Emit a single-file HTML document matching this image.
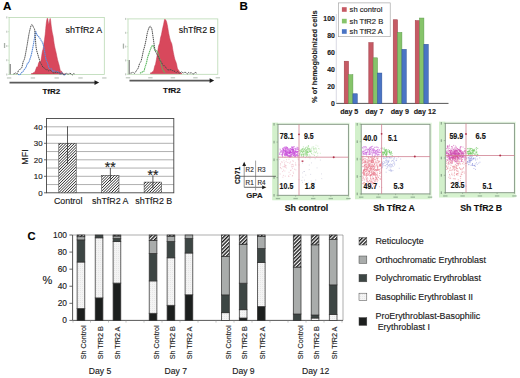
<!DOCTYPE html>
<html><head><meta charset="utf-8"><style>
html,body{margin:0;padding:0;background:#fff;width:520px;height:378px;overflow:hidden}
svg{display:block}
svg text{stroke:#1a1a1a;stroke-width:0.14px}
</style></head><body>
<svg width="520" height="378" viewBox="0 0 520 378">
<rect width="520" height="378" fill="#fff"/>
<text x="3.0" y="10.2" font-size="11.6" font-weight="bold" fill="#000" font-family="Liberation Sans, sans-serif">A</text>
<text x="239.6" y="10.1" font-size="11.6" font-weight="bold" fill="#000" font-family="Liberation Sans, sans-serif">B</text>
<text x="27.4" y="240.1" font-size="11.2" font-weight="bold" fill="#000" font-family="Liberation Sans, sans-serif">C</text>
<rect x="9.1" y="17.4" width="95.2" height="57.1" fill="#fff" stroke="#b9d9b3" stroke-width="0.8"/>
<rect x="6.9" y="77.3" width="4.4" height="1.3" fill="#c4ccc4"/>
<rect x="30.7" y="77.3" width="4.4" height="1.3" fill="#c4ccc4"/>
<rect x="54.5" y="77.3" width="4.4" height="1.3" fill="#c4ccc4"/>
<rect x="78.3" y="77.3" width="4.4" height="1.3" fill="#c4ccc4"/>
<rect x="102.1" y="77.3" width="4.4" height="1.3" fill="#c4ccc4"/>
<line x1="7.8999999999999995" y1="74.5" x2="9.1" y2="74.5" stroke="#b9d9b3" stroke-width="0.6"/>
<rect x="6.3" y="73.5" width="1" height="2" fill="#b8c0b8"/>
<line x1="7.8999999999999995" y1="60.2" x2="9.1" y2="60.2" stroke="#b9d9b3" stroke-width="0.6"/>
<rect x="6.3" y="59.2" width="1" height="2" fill="#b8c0b8"/>
<line x1="7.8999999999999995" y1="46.0" x2="9.1" y2="46.0" stroke="#b9d9b3" stroke-width="0.6"/>
<rect x="6.3" y="45.0" width="1" height="2" fill="#b8c0b8"/>
<line x1="7.8999999999999995" y1="31.7" x2="9.1" y2="31.7" stroke="#b9d9b3" stroke-width="0.6"/>
<rect x="6.3" y="30.7" width="1" height="2" fill="#b8c0b8"/>
<line x1="7.8999999999999995" y1="17.4" x2="9.1" y2="17.4" stroke="#b9d9b3" stroke-width="0.6"/>
<rect x="6.3" y="16.4" width="1" height="2" fill="#b8c0b8"/>
<rect x="3.9" y="43.0" width="1.3" height="5" fill="#a8b0a8"/>
<path d="M31.30,73.62 C31.45,73.65 31.90,73.96 32.20,73.81 C32.50,73.67 32.80,72.94 33.10,72.76 C33.40,72.59 33.68,72.97 34.00,72.77 C34.32,72.57 34.67,72.23 35.00,71.58 C35.33,70.93 35.69,69.68 36.00,68.87 C36.31,68.06 36.56,67.07 36.83,66.73 C37.11,66.40 37.39,67.44 37.67,66.88 C37.94,66.32 38.17,64.30 38.50,63.37 C38.83,62.45 39.27,61.66 39.65,61.31 C40.03,60.96 40.36,62.85 40.80,61.29 C41.24,59.72 41.92,53.99 42.30,51.92 C42.68,49.85 42.83,50.21 43.10,48.87 C43.37,47.54 43.55,46.36 43.90,43.94 C44.25,41.52 44.80,37.84 45.20,34.36 C45.60,30.89 45.92,25.79 46.30,23.09 C46.68,20.39 47.08,18.01 47.50,18.15 C47.92,18.29 48.35,23.91 48.80,23.96 C49.25,24.01 49.77,17.95 50.20,18.46 C50.63,18.97 51.07,24.75 51.40,27.03 C51.73,29.31 51.93,30.67 52.20,32.15 C52.47,33.62 52.62,33.61 53.00,35.87 C53.38,38.12 54.00,42.94 54.50,45.67 C55.00,48.40 55.50,49.93 56.00,52.24 C56.50,54.54 57.00,57.39 57.50,59.48 C58.00,61.57 58.50,62.87 59.00,64.78 C59.50,66.69 60.08,69.88 60.50,70.95 C60.92,72.02 61.17,70.83 61.50,71.18 C61.83,71.53 62.19,72.58 62.50,73.07 C62.81,73.55 63.06,73.89 63.33,74.08 C63.61,74.28 63.89,74.22 64.17,74.26 C64.44,74.29 64.86,74.29 65.00,74.30 L65,73.9 L31.3,73.9 Z" fill="#d8485c" stroke="#c03a50" stroke-width="0.5"/>
<path d="M18.00,74.52 C18.35,74.51 19.49,74.73 20.10,74.44 C20.71,74.14 21.12,73.27 21.63,72.73 C22.14,72.19 22.66,71.81 23.17,71.20 C23.68,70.58 24.23,69.68 24.70,69.03 C25.17,68.39 25.57,68.22 26.00,67.33 C26.43,66.44 26.87,64.50 27.30,63.69 C27.73,62.87 28.13,63.27 28.60,62.44 C29.07,61.61 29.60,60.18 30.10,58.70 C30.60,57.22 30.97,56.40 31.60,53.57 C32.23,50.74 33.25,45.33 33.90,41.72 C34.55,38.11 34.98,33.05 35.50,31.90 C36.02,30.76 36.37,33.92 37.00,34.84 C37.63,35.77 38.53,36.40 39.30,37.44 C40.07,38.48 40.97,39.95 41.60,41.08 C42.23,42.21 42.62,42.56 43.10,44.23 C43.58,45.91 44.02,48.58 44.50,51.12 C44.98,53.67 45.50,57.49 46.00,59.49 C46.50,61.49 47.00,61.73 47.50,63.10 C48.00,64.48 48.53,66.80 49.00,67.75 C49.47,68.70 49.89,68.59 50.33,68.81 C50.78,69.03 51.22,68.60 51.67,69.05 C52.11,69.51 52.54,71.24 53.00,71.53 C53.46,71.83 53.93,70.74 54.40,70.85 C54.87,70.96 55.33,72.05 55.80,72.21 C56.27,72.37 56.73,71.85 57.20,71.83 C57.67,71.81 58.13,71.71 58.60,72.10 C59.07,72.49 59.57,74.00 60.00,74.17 C60.43,74.34 60.80,73.27 61.20,73.12 C61.60,72.97 62.00,72.99 62.40,73.27 C62.80,73.55 63.20,74.54 63.60,74.79 C64.00,75.03 64.40,74.83 64.80,74.73 C65.20,74.63 65.80,74.29 66.00,74.20" fill="none" stroke="#5a8ad8" stroke-width="1.1" stroke-dasharray="1.5,0.5"/>
<path d="M13.50,73.93 C13.70,73.86 14.30,73.69 14.70,73.51 C15.10,73.32 15.50,72.76 15.90,72.82 C16.30,72.88 16.64,74.28 17.10,73.86 C17.56,73.44 18.12,71.07 18.63,70.28 C19.14,69.49 19.66,69.55 20.17,69.14 C20.68,68.73 21.19,69.05 21.70,67.82 C22.21,66.58 22.70,63.38 23.20,61.75 C23.70,60.11 24.07,60.65 24.70,58.00 C25.33,55.34 26.23,50.06 27.00,45.81 C27.77,41.56 28.53,35.99 29.30,32.47 C30.07,28.95 30.88,25.50 31.60,24.68 C32.32,23.86 33.08,26.64 33.60,27.57 C34.12,28.49 34.38,28.16 34.70,30.21 C35.02,32.27 35.25,36.93 35.50,39.91 C35.75,42.88 35.82,45.68 36.20,48.08 C36.58,50.49 37.15,52.04 37.80,54.33 C38.45,56.61 39.48,60.10 40.10,61.80 C40.73,63.50 41.07,63.60 41.55,64.51 C42.03,65.42 42.51,66.67 43.00,67.26 C43.49,67.85 44.00,67.64 44.50,68.06 C45.00,68.48 45.53,69.53 46.00,69.79 C46.47,70.05 46.86,69.45 47.29,69.62 C47.72,69.79 48.15,70.72 48.58,70.81 C49.01,70.90 49.44,70.14 49.88,70.18 C50.31,70.22 50.74,70.71 51.17,71.06 C51.60,71.41 52.03,71.97 52.46,72.28 C52.89,72.59 53.33,72.87 53.75,72.91 C54.17,72.95 54.56,72.66 54.97,72.53 C55.37,72.39 55.78,72.08 56.18,72.09 C56.59,72.10 56.99,72.49 57.40,72.58 C57.81,72.67 58.21,72.58 58.62,72.64 C59.02,72.70 59.43,72.70 59.83,72.94 C60.24,73.17 60.64,74.03 61.05,74.06 C61.46,74.09 61.86,73.05 62.27,73.13 C62.67,73.20 63.08,74.27 63.48,74.53 C63.89,74.79 64.28,74.90 64.70,74.68 C65.12,74.47 65.56,73.37 65.99,73.22 C66.42,73.08 66.85,73.69 67.28,73.83 C67.70,73.97 68.13,74.16 68.56,74.06 C68.99,73.96 69.42,73.25 69.85,73.24 C70.28,73.23 70.71,73.72 71.14,73.99 C71.57,74.26 72.00,74.97 72.42,74.88 C72.85,74.80 73.28,73.59 73.71,73.48 C74.14,73.36 74.79,74.08 75.00,74.20" fill="none" stroke="#4a4a4a" stroke-width="1.0" stroke-dasharray="1.4,0.6"/>
<text x="65.6" y="33" font-size="8.2" textLength="36.6" lengthAdjust="spacingAndGlyphs" fill="#111" stroke="#111" stroke-width="0.15" font-family="Liberation Sans, sans-serif">shTfR2 A</text>
<line x1="10.2" y1="64" x2="10.2" y2="74.3" stroke="#555" stroke-width="0.9"/>
<line x1="9.5" y1="82.6" x2="96" y2="82.6" stroke="#5a5a5a" stroke-width="1.7"/>
<path d="M99.2,82.6 L94.5,80.3 L94.5,84.9 Z" fill="#1a1a1a"/>
<text x="51.3" y="93.8" font-size="8" font-weight="bold" text-anchor="middle" fill="#111" font-family="Liberation Sans, sans-serif">TfR2</text>
<rect x="128" y="18.9" width="89.80000000000001" height="55.4" fill="#fff" stroke="#b9d9b3" stroke-width="0.8"/>
<rect x="125.8" y="77.1" width="4.4" height="1.3" fill="#c4ccc4"/>
<rect x="148.2" y="77.1" width="4.4" height="1.3" fill="#c4ccc4"/>
<rect x="170.7" y="77.1" width="4.4" height="1.3" fill="#c4ccc4"/>
<rect x="193.2" y="77.1" width="4.4" height="1.3" fill="#c4ccc4"/>
<rect x="215.6" y="77.1" width="4.4" height="1.3" fill="#c4ccc4"/>
<line x1="126.8" y1="74.3" x2="128" y2="74.3" stroke="#b9d9b3" stroke-width="0.6"/>
<rect x="125.2" y="73.3" width="1" height="2" fill="#b8c0b8"/>
<line x1="126.8" y1="60.4" x2="128" y2="60.4" stroke="#b9d9b3" stroke-width="0.6"/>
<rect x="125.2" y="59.4" width="1" height="2" fill="#b8c0b8"/>
<line x1="126.8" y1="46.6" x2="128" y2="46.6" stroke="#b9d9b3" stroke-width="0.6"/>
<rect x="125.2" y="45.6" width="1" height="2" fill="#b8c0b8"/>
<line x1="126.8" y1="32.8" x2="128" y2="32.8" stroke="#b9d9b3" stroke-width="0.6"/>
<rect x="125.2" y="31.8" width="1" height="2" fill="#b8c0b8"/>
<line x1="126.8" y1="18.9" x2="128" y2="18.9" stroke="#b9d9b3" stroke-width="0.6"/>
<rect x="125.2" y="17.9" width="1" height="2" fill="#b8c0b8"/>
<rect x="122.8" y="43.6" width="1.3" height="5" fill="#a8b0a8"/>
<path d="M150.50,72.82 C150.64,72.84 151.06,73.11 151.33,72.95 C151.61,72.78 151.89,72.02 152.17,71.83 C152.44,71.63 152.72,72.13 153.00,71.77 C153.28,71.41 153.58,70.62 153.87,69.66 C154.16,68.70 154.44,67.02 154.73,66.04 C155.02,65.05 155.19,65.59 155.60,63.73 C156.01,61.87 156.80,57.27 157.20,54.88 C157.60,52.48 157.73,50.97 158.00,49.37 C158.27,47.78 158.53,46.32 158.80,45.31 C159.08,44.29 159.37,44.52 159.65,43.29 C159.93,42.06 160.21,39.32 160.50,37.92 C160.79,36.52 161.10,36.21 161.40,34.87 C161.70,33.54 161.93,31.69 162.30,29.94 C162.67,28.19 163.22,26.09 163.60,24.36 C163.98,22.64 164.28,20.36 164.60,19.59 C164.92,18.82 165.17,19.36 165.50,19.75 C165.83,20.14 166.27,20.91 166.60,21.96 C166.93,23.01 167.13,24.12 167.50,26.06 C167.87,28.01 168.32,31.23 168.80,33.63 C169.28,36.02 169.90,38.74 170.40,40.45 C170.90,42.15 171.37,42.16 171.80,43.87 C172.23,45.57 172.53,48.28 173.00,50.67 C173.47,53.07 174.17,56.52 174.60,58.24 C175.03,59.96 175.23,60.06 175.55,60.98 C175.87,61.91 176.18,62.54 176.50,63.78 C176.82,65.03 177.17,67.43 177.50,68.45 C177.83,69.48 178.19,69.43 178.50,69.93 C178.81,70.43 179.08,70.98 179.38,71.44 C179.67,71.91 179.96,72.45 180.25,72.73 C180.54,73.02 180.83,73.05 181.12,73.18 C181.42,73.31 181.85,73.45 182.00,73.50 L182,73.7 L150.5,73.7 Z" fill="#d8485c" stroke="#c03a50" stroke-width="0.5"/>
<path d="M140.00,73.22 C140.22,73.11 140.87,72.81 141.30,72.57 C141.73,72.33 142.17,72.03 142.60,71.80 C143.03,71.57 143.48,72.02 143.90,71.20 C144.32,70.37 144.72,68.19 145.13,66.87 C145.54,65.54 145.96,64.76 146.37,63.23 C146.78,61.69 147.14,59.32 147.60,57.65 C148.06,55.99 148.60,54.70 149.10,53.24 C149.60,51.78 149.98,50.19 150.60,48.90 C151.22,47.60 152.07,45.23 152.80,45.47 C153.53,45.71 154.27,49.37 155.00,50.32 C155.73,51.28 156.58,50.33 157.20,51.20 C157.82,52.07 158.15,53.82 158.70,55.54 C159.25,57.27 159.87,59.29 160.50,61.54 C161.13,63.80 161.96,67.48 162.50,69.08 C163.04,70.68 163.33,70.48 163.75,71.13 C164.17,71.79 164.79,72.69 165.00,73.00" fill="none" stroke="#5cb860" stroke-width="1.1" stroke-dasharray="1.5,0.5"/>
<path d="M130.50,73.13 C130.72,73.08 131.37,72.97 131.80,72.82 C132.23,72.67 132.67,72.15 133.10,72.25 C133.53,72.35 133.97,73.50 134.40,73.41 C134.83,73.32 135.27,72.31 135.70,71.71 C136.13,71.11 136.57,70.49 137.00,69.83 C137.43,69.17 137.87,68.82 138.30,67.77 C138.73,66.72 139.17,64.55 139.60,63.52 C140.03,62.49 140.48,62.72 140.90,61.60 C141.32,60.47 141.72,58.58 142.13,56.78 C142.54,54.98 142.96,52.52 143.37,50.81 C143.78,49.09 144.14,48.34 144.60,46.48 C145.06,44.63 145.60,42.11 146.10,39.67 C146.60,37.22 146.98,34.04 147.60,31.81 C148.22,29.59 149.23,27.04 149.80,26.31 C150.37,25.57 150.63,26.78 151.00,27.38 C151.37,27.99 151.58,27.83 152.00,29.93 C152.42,32.03 153.00,36.72 153.50,40.00 C154.00,43.28 154.38,47.15 155.00,49.61 C155.62,52.07 156.60,53.50 157.20,54.76 C157.80,56.02 158.13,56.21 158.60,57.16 C159.07,58.12 159.52,59.64 160.00,60.49 C160.48,61.35 161.00,61.47 161.50,62.29 C162.00,63.12 162.53,64.89 163.00,65.44 C163.47,66.00 163.89,65.31 164.33,65.62 C164.78,65.92 165.22,66.67 165.67,67.29 C166.11,67.91 166.56,68.88 167.00,69.31 C167.44,69.75 167.89,69.80 168.33,69.89 C168.78,69.97 169.22,69.86 169.67,69.83 C170.11,69.80 170.56,69.59 171.00,69.71 C171.44,69.82 171.89,70.32 172.33,70.51 C172.78,70.71 173.22,70.73 173.67,70.89 C174.11,71.06 174.57,71.22 175.00,71.51 C175.43,71.79 175.83,72.57 176.25,72.59 C176.67,72.62 177.08,71.57 177.50,71.63 C177.92,71.70 178.33,72.76 178.75,73.01 C179.17,73.26 179.58,73.34 180.00,73.13 C180.42,72.93 180.83,71.89 181.25,71.79 C181.67,71.68 182.08,72.33 182.50,72.51 C182.92,72.68 183.33,72.91 183.75,72.85 C184.17,72.79 184.59,72.13 185.00,72.14 C185.41,72.15 185.80,72.63 186.20,72.91 C186.60,73.20 187.00,73.91 187.40,73.83 C187.80,73.75 188.20,72.53 188.60,72.45 C189.00,72.38 189.40,73.35 189.80,73.37 C190.20,73.39 190.60,72.56 191.00,72.57 C191.40,72.58 191.80,73.19 192.20,73.44 C192.60,73.69 193.00,74.16 193.40,74.06 C193.80,73.97 194.20,73.11 194.60,72.87 C195.00,72.62 195.40,72.46 195.80,72.56 C196.20,72.67 196.80,73.34 197.00,73.50" fill="none" stroke="#4a4a4a" stroke-width="1.0" stroke-dasharray="1.4,0.6"/>
<text x="178.8" y="32.5" font-size="8.2" textLength="36.6" lengthAdjust="spacingAndGlyphs" fill="#111" stroke="#111" stroke-width="0.15" font-family="Liberation Sans, sans-serif">shTfR2 B</text>
<line x1="129.2" y1="60" x2="129.2" y2="74.2" stroke="#555" stroke-width="0.9"/>
<line x1="129.5" y1="80.6" x2="210.5" y2="80.6" stroke="#5a5a5a" stroke-width="1.7"/>
<path d="M214.2,80.6 L209.6,78.3 L209.6,82.9 Z" fill="#1a1a1a"/>
<text x="171.9" y="92.8" font-size="8" font-weight="bold" text-anchor="middle" fill="#111" font-family="Liberation Sans, sans-serif">TfR2</text>
<defs>
<pattern id="hatch" patternUnits="userSpaceOnUse" width="2.45" height="2.45"><rect width="2.45" height="2.45" fill="#fff"/><path d="M-0.6,3.05 L3.05,-0.6 M-1.8,1.2 L1.2,-1.8 M1.25,4.25 L4.25,1.25" stroke="#1e1e1e" stroke-width="0.95"/></pattern>
<pattern id="hatchC" patternUnits="userSpaceOnUse" width="2.6" height="2.6" patternTransform="rotate(45)"><rect width="2.6" height="2.6" fill="#fff"/><rect width="1.4" height="2.6" fill="#1a1a1a"/></pattern>
<pattern id="dots" patternUnits="userSpaceOnUse" width="2" height="2"><rect width="2" height="2" fill="#f4f4f4"/><rect width="0.6" height="0.6" fill="#d0d0d0"/></pattern>
<filter id="hb" x="-20%" y="-5%" width="140%" height="110%"><feGaussianBlur stdDeviation="0.3"/></filter>
</defs>
<rect x="46.5" y="118.5" width="127.30000000000001" height="74.30000000000001" fill="#fff"/>
<line x1="46.5" y1="184.55" x2="173.8" y2="184.55" stroke="#8e8e8e" stroke-width="0.7"/>
<line x1="46.5" y1="176.30" x2="173.8" y2="176.30" stroke="#8e8e8e" stroke-width="0.7"/>
<line x1="46.5" y1="168.05" x2="173.8" y2="168.05" stroke="#8e8e8e" stroke-width="0.7"/>
<line x1="46.5" y1="159.80" x2="173.8" y2="159.80" stroke="#8e8e8e" stroke-width="0.7"/>
<line x1="46.5" y1="151.55" x2="173.8" y2="151.55" stroke="#8e8e8e" stroke-width="0.7"/>
<line x1="46.5" y1="143.30" x2="173.8" y2="143.30" stroke="#8e8e8e" stroke-width="0.7"/>
<line x1="46.5" y1="135.05" x2="173.8" y2="135.05" stroke="#8e8e8e" stroke-width="0.7"/>
<line x1="46.5" y1="126.80" x2="173.8" y2="126.80" stroke="#8e8e8e" stroke-width="0.7"/>
<rect x="46.5" y="118.5" width="127.30000000000001" height="74.30000000000001" fill="none" stroke="#444" stroke-width="0.9"/>
<line x1="44.0" y1="192.80" x2="46.5" y2="192.80" stroke="#444" stroke-width="0.8"/>
<text x="42.6" y="195.55" font-size="7.9" text-anchor="end" fill="#222" font-family="Liberation Sans, sans-serif">0</text>
<line x1="44.0" y1="176.30" x2="46.5" y2="176.30" stroke="#444" stroke-width="0.8"/>
<text x="42.6" y="179.05" font-size="7.9" text-anchor="end" fill="#222" font-family="Liberation Sans, sans-serif">10</text>
<line x1="44.0" y1="159.80" x2="46.5" y2="159.80" stroke="#444" stroke-width="0.8"/>
<text x="42.6" y="162.55" font-size="7.9" text-anchor="end" fill="#222" font-family="Liberation Sans, sans-serif">20</text>
<line x1="44.0" y1="143.30" x2="46.5" y2="143.30" stroke="#444" stroke-width="0.8"/>
<text x="42.6" y="146.05" font-size="7.9" text-anchor="end" fill="#222" font-family="Liberation Sans, sans-serif">30</text>
<line x1="44.0" y1="126.80" x2="46.5" y2="126.80" stroke="#444" stroke-width="0.8"/>
<text x="42.6" y="129.55" font-size="7.9" text-anchor="end" fill="#222" font-family="Liberation Sans, sans-serif">40</text>
<clipPath id="cb58"><rect x="58.8" y="143.30" width="17.40" height="49.50"/></clipPath>
<rect x="58.8" y="143.30" width="17.40" height="49.50" fill="#fff"/>
<g clip-path="url(#cb58)"><path filter="url(#hb)" d="M7.30,193.80L58.80,142.30M10.10,193.80L61.60,142.30M12.90,193.80L64.40,142.30M15.70,193.80L67.20,142.30M18.50,193.80L70.00,142.30M21.30,193.80L72.80,142.30M24.10,193.80L75.60,142.30M26.90,193.80L78.40,142.30M29.70,193.80L81.20,142.30M32.50,193.80L84.00,142.30M35.30,193.80L86.80,142.30M38.10,193.80L89.60,142.30M40.90,193.80L92.40,142.30M43.70,193.80L95.20,142.30M46.50,193.80L98.00,142.30M49.30,193.80L100.80,142.30M52.10,193.80L103.60,142.30M54.90,193.80L106.40,142.30M57.70,193.80L109.20,142.30M60.50,193.80L112.00,142.30M63.30,193.80L114.80,142.30M66.10,193.80L117.60,142.30M68.90,193.80L120.40,142.30M71.70,193.80L123.20,142.30M74.50,193.80L126.00,142.30M77.30,193.80L128.80,142.30" stroke="#1e1e1e" stroke-width="0.95"/></g>
<rect x="58.8" y="143.30" width="17.40" height="49.50" fill="none" stroke="#333" stroke-width="0.5"/>
<line x1="67.50" y1="126.31" x2="67.50" y2="163.60" stroke="#333" stroke-width="0.8"/>
<clipPath id="cb101"><rect x="101.7" y="175.31" width="17.30" height="17.49"/></clipPath>
<rect x="101.7" y="175.31" width="17.30" height="17.49" fill="#fff"/>
<g clip-path="url(#cb101)"><path filter="url(#hb)" d="M82.21,193.80L101.70,174.31M85.01,193.80L104.50,174.31M87.81,193.80L107.30,174.31M90.61,193.80L110.10,174.31M93.41,193.80L112.90,174.31M96.21,193.80L115.70,174.31M99.01,193.80L118.50,174.31M101.81,193.80L121.30,174.31M104.61,193.80L124.10,174.31M107.41,193.80L126.90,174.31M110.21,193.80L129.70,174.31M113.01,193.80L132.50,174.31M115.81,193.80L135.30,174.31M118.61,193.80L138.10,174.31" stroke="#1e1e1e" stroke-width="0.95"/></g>
<rect x="101.7" y="175.31" width="17.30" height="17.49" fill="none" stroke="#333" stroke-width="0.5"/>
<line x1="110.35" y1="168.05" x2="110.35" y2="181.25" stroke="#333" stroke-width="0.8"/>
<clipPath id="cb144"><rect x="144.1" y="182.08" width="17.60" height="10.72"/></clipPath>
<rect x="144.1" y="182.08" width="17.60" height="10.72" fill="#fff"/>
<g clip-path="url(#cb144)"><path filter="url(#hb)" d="M131.38,193.80L144.10,181.08M134.18,193.80L146.90,181.08M136.98,193.80L149.70,181.08M139.78,193.80L152.50,181.08M142.58,193.80L155.30,181.08M145.38,193.80L158.10,181.08M148.18,193.80L160.90,181.08M150.98,193.80L163.70,181.08M153.78,193.80L166.50,181.08M156.58,193.80L169.30,181.08M159.38,193.80L172.10,181.08M162.18,193.80L174.90,181.08" stroke="#1e1e1e" stroke-width="0.95"/></g>
<rect x="144.1" y="182.08" width="17.60" height="10.72" fill="none" stroke="#333" stroke-width="0.5"/>
<line x1="152.90" y1="175.31" x2="152.90" y2="188.34" stroke="#333" stroke-width="0.8"/>
<text x="110.3" y="172.2" font-size="14" text-anchor="middle" fill="#222" stroke="#222" stroke-width="0.2" font-family="Liberation Sans, sans-serif">**</text>
<text x="152.9" y="179.9" font-size="14" text-anchor="middle" fill="#222" stroke="#222" stroke-width="0.2" font-family="Liberation Sans, sans-serif">**</text>
<text transform="translate(28.2,157) rotate(-90)" font-size="8.9" text-anchor="middle" fill="#222" font-family="Liberation Sans, sans-serif">MFI</text>
<text x="68.2" y="203.6" font-size="8.9" text-anchor="middle" fill="#1a1a1a" stroke="#1a1a1a" stroke-width="0.15" font-family="Liberation Sans, sans-serif">Control</text>
<text x="110.3" y="203.6" font-size="8.9" text-anchor="middle" fill="#1a1a1a" stroke="#1a1a1a" stroke-width="0.15" font-family="Liberation Sans, sans-serif">shTfR2 A</text>
<text x="153.8" y="203.6" font-size="8.9" text-anchor="middle" fill="#1a1a1a" stroke="#1a1a1a" stroke-width="0.15" font-family="Liberation Sans, sans-serif">shTfR2 B</text>
<line x1="336.3" y1="14" x2="336.3" y2="103.4" stroke="#c8c8d8" stroke-width="0.7"/>
<line x1="336.3" y1="103.4" x2="448.5" y2="103.4" stroke="#444" stroke-width="0.9"/>
<text x="334.8" y="105.50" font-size="6.9" font-weight="bold" text-anchor="end" fill="#222" font-family="Liberation Sans, sans-serif">0</text>
<text x="334.8" y="88.58" font-size="6.9" font-weight="bold" text-anchor="end" fill="#222" font-family="Liberation Sans, sans-serif">20</text>
<text x="334.8" y="71.66" font-size="6.9" font-weight="bold" text-anchor="end" fill="#222" font-family="Liberation Sans, sans-serif">40</text>
<text x="334.8" y="54.74" font-size="6.9" font-weight="bold" text-anchor="end" fill="#222" font-family="Liberation Sans, sans-serif">60</text>
<text x="334.8" y="37.82" font-size="6.9" font-weight="bold" text-anchor="end" fill="#222" font-family="Liberation Sans, sans-serif">80</text>
<text x="334.8" y="20.90" font-size="6.9" font-weight="bold" text-anchor="end" fill="#222" font-family="Liberation Sans, sans-serif">100</text>
<rect x="344.20" y="61.20" width="4.35" height="42.30" fill="#c65a64" stroke="#9c3a44" stroke-width="0.5"/>
<rect x="348.55" y="74.74" width="4.35" height="28.76" fill="#86c46a" stroke="#5a9a48" stroke-width="0.5"/>
<rect x="352.90" y="93.77" width="4.35" height="9.73" fill="#4a74c4" stroke="#2c5098" stroke-width="0.5"/>
<rect x="368.80" y="42.59" width="4.35" height="60.91" fill="#c65a64" stroke="#9c3a44" stroke-width="0.5"/>
<rect x="373.15" y="57.82" width="4.35" height="45.68" fill="#86c46a" stroke="#5a9a48" stroke-width="0.5"/>
<rect x="377.50" y="73.04" width="4.35" height="30.46" fill="#4a74c4" stroke="#2c5098" stroke-width="0.5"/>
<rect x="393.20" y="19.75" width="4.35" height="83.75" fill="#c65a64" stroke="#9c3a44" stroke-width="0.5"/>
<rect x="397.55" y="32.44" width="4.35" height="71.06" fill="#86c46a" stroke="#5a9a48" stroke-width="0.5"/>
<rect x="401.90" y="49.36" width="4.35" height="54.14" fill="#4a74c4" stroke="#2c5098" stroke-width="0.5"/>
<rect x="415.20" y="20.59" width="4.35" height="82.91" fill="#c65a64" stroke="#9c3a44" stroke-width="0.5"/>
<rect x="419.55" y="18.05" width="4.35" height="85.45" fill="#86c46a" stroke="#5a9a48" stroke-width="0.5"/>
<rect x="423.90" y="44.28" width="4.35" height="59.22" fill="#4a74c4" stroke="#2c5098" stroke-width="0.5"/>
<text x="349.2" y="114.1" font-size="7.1" font-weight="bold" text-anchor="middle" fill="#222" font-family="Liberation Sans, sans-serif">day 5</text>
<text x="374.4" y="114.1" font-size="7.1" font-weight="bold" text-anchor="middle" fill="#222" font-family="Liberation Sans, sans-serif">day 7</text>
<text x="399.8" y="114.1" font-size="7.1" font-weight="bold" text-anchor="middle" fill="#222" font-family="Liberation Sans, sans-serif">day 9</text>
<text x="424.8" y="114.1" font-size="7.1" font-weight="bold" text-anchor="middle" fill="#222" font-family="Liberation Sans, sans-serif">day 12</text>
<text transform="translate(317.2,103) rotate(-90)" font-size="7.8" font-weight="bold" textLength="92.6" lengthAdjust="spacingAndGlyphs" fill="#222" font-family="Liberation Sans, sans-serif">% of hemoglobinized cells</text>
<rect x="338.3" y="2.9" width="51.9" height="33.8" fill="#fff" stroke="#9a9a9a" stroke-width="0.6"/>
<rect x="341.9" y="7.2" width="4.8" height="4.6" fill="#c65a64"/>
<text x="349.6" y="12.1" font-size="7.6" fill="#222" font-family="Liberation Sans, sans-serif">sh control</text>
<rect x="341.9" y="18.8" width="4.8" height="4.6" fill="#86c46a"/>
<text x="349.6" y="23.7" font-size="7.6" fill="#222" font-family="Liberation Sans, sans-serif">sh TfR2 B</text>
<rect x="341.9" y="29.2" width="4.8" height="4.6" fill="#4a74c4"/>
<text x="349.6" y="34.1" font-size="7.6" fill="#222" font-family="Liberation Sans, sans-serif">sh TfR2 A</text>
<defs><filter id="bl" x="-5%" y="-5%" width="110%" height="110%"><feGaussianBlur stdDeviation="0.35"/></filter></defs>
<rect x="272.3" y="122.7" width="77.6" height="77.5" fill="#e8f8e4"/>
<rect x="272.3" y="122.7" width="5.7" height="77.5" fill="#d2f0cb"/>
<rect x="278.0" y="195.3" width="70.4" height="4.9" fill="#d6f2cf"/>
<rect x="278.0" y="124.3" width="70.4" height="71.0" fill="#fff"/>
<g filter="url(#bl)">
<path d="M297.4,156.4h0.9M289.4,150.2h0.9M281.9,152.4h0.9M282.4,148.3h0.9M290.3,152.7h0.9M292.6,149.7h0.9M289.0,152.1h0.9M279.2,153.8h0.9M290.3,151.9h0.9M297.0,152.9h0.9M294.9,151.3h0.9M290.4,155.2h0.9M293.5,152.7h0.9M282.0,153.5h0.9M289.5,154.3h0.9M290.4,155.3h0.9M288.7,152.9h0.9M293.3,149.3h0.9M286.4,150.9h0.9M293.2,154.0h0.9M287.2,148.0h0.9M295.3,151.2h0.9M293.7,148.6h0.9M286.2,155.8h0.9M298.3,148.7h0.9M280.3,152.2h0.9M293.7,152.7h0.9M291.0,149.5h0.9M292.8,155.4h0.9M286.2,148.3h0.9M284.1,154.4h0.9M282.6,151.9h0.9M287.4,152.3h0.9M298.8,153.5h0.9M297.7,151.9h0.9M285.9,153.4h0.9M290.0,148.8h0.9M292.0,150.7h0.9M282.6,150.8h0.9M288.0,155.8h0.9M289.7,152.2h0.9M291.5,147.2h0.9M297.1,149.3h0.9M291.9,149.1h0.9M282.7,151.2h0.9M285.1,151.5h0.9M281.5,152.2h0.9M285.3,154.3h0.9M280.2,151.4h0.9M283.5,150.3h0.9M293.6,152.7h0.9M292.8,155.6h0.9M296.5,148.5h0.9M292.5,147.4h0.9M287.7,151.3h0.9M290.1,152.4h0.9M289.2,150.2h0.9M296.0,154.8h0.9M287.6,153.2h0.9M293.3,155.2h0.9M291.6,154.2h0.9M287.3,149.3h0.9M285.8,155.2h0.9M295.4,152.7h0.9M285.3,153.2h0.9M284.6,152.2h0.9M279.6,149.1h0.9M290.2,152.4h0.9M295.3,155.8h0.9M294.4,156.0h0.9M285.4,149.1h0.9M291.3,149.1h0.9M290.6,156.3h0.9M282.3,154.5h0.9M285.0,155.9h0.9M294.1,153.2h0.9M288.7,149.4h0.9M289.0,152.7h0.9M290.3,151.8h0.9M285.4,151.6h0.9M286.8,149.1h0.9M284.7,154.1h0.9M291.7,156.3h0.9M285.1,153.1h0.9M296.6,154.8h0.9M286.8,155.5h0.9M290.0,152.0h0.9M290.8,154.7h0.9M286.6,153.9h0.9M283.3,147.6h0.9M294.4,151.2h0.9M296.3,149.4h0.9M290.0,156.8h0.9M292.4,153.2h0.9M292.8,151.3h0.9M289.5,148.5h0.9M292.4,150.0h0.9M286.1,154.3h0.9M295.0,149.5h0.9M294.4,155.0h0.9M290.5,152.8h0.9M291.9,147.2h0.9M284.1,155.6h0.9M290.3,149.6h0.9M284.8,151.4h0.9M293.5,153.4h0.9M295.5,150.0h0.9M295.4,150.9h0.9M289.5,151.9h0.9M287.6,151.2h0.9M293.7,152.8h0.9M295.8,152.1h0.9M291.9,153.4h0.9M289.6,156.9h0.9M293.6,151.0h0.9M288.8,155.5h0.9M296.6,154.7h0.9M289.9,152.4h0.9M294.4,152.0h0.9M283.2,150.6h0.9M288.1,153.2h0.9M292.1,152.0h0.9M291.0,156.1h0.9M297.1,151.9h0.9M285.4,148.5h0.9M288.5,155.8h0.9M287.3,154.3h0.9M293.6,153.4h0.9M296.0,152.0h0.9M283.6,149.0h0.9M295.0,151.3h0.9M287.0,154.6h0.9M293.3,150.8h0.9M284.9,155.3h0.9M281.3,150.5h0.9M289.0,152.9h0.9M289.1,153.4h0.9M286.6,152.0h0.9M297.2,154.1h0.9M293.3,155.0h0.9M289.7,151.2h0.9M292.8,151.8h0.9M291.5,150.1h0.9M295.1,154.4h0.9M293.7,151.2h0.9M291.8,151.3h0.9M290.4,151.9h0.9M293.7,146.5h0.9M294.8,148.4h0.9M287.5,150.7h0.9M285.5,153.0h0.9M286.9,148.2h0.9M289.0,153.3h0.9M281.3,151.2h0.9M293.2,149.8h0.9M284.3,153.9h0.9M288.9,152.9h0.9M284.9,150.0h0.9M286.9,151.9h0.9M286.8,153.5h0.9M292.6,153.8h0.9M292.1,149.8h0.9M281.7,154.5h0.9M289.1,152.6h0.9M281.5,151.7h0.9M284.9,149.9h0.9M284.9,148.1h0.9M289.6,155.6h0.9M284.4,152.6h0.9M281.9,154.2h0.9M287.5,156.3h0.9M291.4,152.6h0.9M295.0,156.3h0.9M293.2,150.7h0.9M284.5,147.2h0.9M282.0,155.4h0.9M288.3,148.6h0.9M297.6,147.6h0.9M297.2,151.4h0.9M291.2,154.2h0.9M290.7,155.9h0.9M289.1,151.4h0.9M284.7,148.3h0.9M284.5,155.1h0.9M294.4,156.2h0.9M292.3,148.6h0.9M292.4,151.9h0.9M291.0,147.0h0.9M283.6,148.6h0.9M295.3,151.8h0.9M291.3,149.5h0.9M291.9,154.4h0.9M292.2,151.9h0.9M283.6,150.6h0.9M293.0,153.9h0.9M289.1,157.0h0.9M293.2,152.3h0.9M287.8,152.5h0.9M282.8,149.6h0.9M291.3,150.7h0.9M287.2,155.7h0.9M287.7,156.0h0.9M288.9,156.5h0.9M292.0,147.4h0.9M297.0,151.7h0.9M290.0,148.7h0.9M285.1,153.8h0.9M298.2,155.5h0.9M296.9,155.4h0.9M294.0,154.8h0.9M284.0,151.2h0.9M282.9,152.2h0.9M288.7,152.3h0.9M282.4,153.4h0.9M286.8,155.0h0.9M291.0,148.1h0.9M279.6,152.5h0.9M285.8,153.6h0.9M294.2,152.4h0.9M292.7,149.4h0.9M296.2,152.0h0.9M292.4,149.8h0.9M287.6,153.9h0.9M283.2,149.9h0.9M288.7,152.5h0.9M283.7,154.2h0.9M279.9,150.0h0.9M297.7,149.5h0.9M283.0,149.2h0.9M284.4,150.2h0.9M282.7,149.4h0.9M295.3,148.4h0.9M292.5,148.8h0.9M286.0,154.1h0.9M285.6,146.8h0.9M285.4,151.9h0.9M292.7,149.5h0.9M287.1,152.5h0.9M283.6,153.5h0.9M288.3,151.8h0.9M286.6,149.7h0.9M285.7,148.8h0.9M290.1,154.1h0.9M292.9,150.8h0.9M282.8,151.9h0.9M293.6,155.9h0.9M286.3,147.3h0.9M287.9,156.1h0.9M289.9,155.9h0.9M294.4,156.7h0.9M292.9,150.4h0.9M285.6,147.1h0.9M284.9,150.6h0.9M279.0,154.3h0.9M289.9,150.5h0.9M286.2,151.1h0.9M295.9,151.8h0.9M298.0,150.0h0.9M285.0,150.9h0.9M285.5,152.0h0.9M295.7,155.7h0.9M282.0,155.9h0.9M289.6,156.7h0.9M287.9,150.0h0.9M294.1,154.0h0.9M286.0,152.4h0.9M289.8,153.2h0.9M289.4,153.0h0.9M285.6,147.4h0.9M297.7,151.4h0.9M282.2,156.8h0.9M296.4,155.2h0.9M294.4,153.9h0.9M282.7,152.4h0.9M291.3,154.1h0.9M292.1,149.5h0.9M285.1,151.4h0.9M287.7,149.9h0.9M291.0,152.3h0.9M292.8,147.0h0.9M286.3,154.8h0.9M289.2,150.7h0.9M290.0,152.0h0.9M294.9,155.6h0.9M294.9,153.3h0.9M294.0,154.6h0.9M296.6,147.2h0.9M291.2,152.5h0.9M290.0,151.6h0.9M288.5,153.7h0.9M290.3,152.7h0.9M282.0,148.8h0.9M284.1,147.3h0.9M285.6,149.9h0.9M285.9,150.7h0.9M283.9,150.9h0.9M282.4,150.1h0.9M286.7,152.2h0.9M284.9,154.6h0.9M280.5,154.2h0.9M286.6,147.8h0.9M287.0,147.7h0.9M296.8,148.0h0.9M291.7,152.7h0.9M291.8,149.4h0.9M296.8,153.2h0.9M285.8,152.8h0.9M280.9,155.0h0.9M290.1,151.9h0.9M286.2,152.1h0.9M289.9,151.2h0.9M295.3,152.9h0.9M288.4,149.9h0.9M296.9,155.9h0.9M293.5,147.1h0.9M286.7,155.1h0.9M289.2,155.9h0.9M286.1,154.5h0.9" stroke="#c84ad8" stroke-width="0.9" opacity="0.7" fill="none"/>
<path d="M302.4,151.3h0.9M301.5,149.5h0.9M310.4,151.7h0.9M307.2,148.3h0.9M305.6,150.0h0.9M306.1,154.2h0.9M302.2,151.8h0.9M301.0,155.0h0.9M311.1,153.4h0.9M302.0,150.0h0.9M302.9,154.5h0.9M301.0,156.1h0.9M309.3,157.0h0.9M302.4,154.2h0.9M314.1,155.3h0.9M313.5,148.7h0.9M307.7,146.2h0.9M310.4,149.6h0.9M307.2,154.6h0.9M305.3,147.7h0.9M303.9,149.3h0.9M309.4,150.6h0.9M300.3,153.8h0.9M308.9,151.6h0.9M305.1,153.4h0.9M302.0,148.7h0.9M306.1,151.0h0.9M305.7,152.4h0.9M301.0,151.4h0.9M306.4,153.4h0.9M300.7,149.5h0.9M305.4,152.5h0.9M307.4,148.8h0.9M307.7,156.9h0.9M307.8,152.4h0.9M307.6,148.4h0.9M307.3,150.2h0.9M301.7,148.9h0.9M310.7,150.3h0.9M302.9,146.9h0.9M307.1,152.0h0.9M306.0,156.4h0.9M304.6,148.7h0.9M299.9,152.2h0.9M309.3,148.6h0.9M303.0,151.6h0.9M306.6,149.5h0.9M305.2,154.2h0.9M303.8,151.7h0.9M306.5,153.6h0.9M309.0,149.0h0.9M308.9,151.4h0.9M299.4,150.5h0.9M308.1,145.7h0.9M299.3,154.2h0.9M302.8,154.2h0.9M307.0,155.4h0.9M310.5,151.8h0.9M300.5,150.9h0.9M308.7,149.5h0.9M311.3,148.2h0.9M306.2,149.7h0.9M299.4,155.3h0.9M300.4,152.3h0.9M302.1,152.4h0.9M301.5,154.3h0.9M306.4,152.2h0.9M301.2,150.8h0.9M307.1,152.0h0.9M302.5,149.2h0.9M304.8,148.8h0.9M303.0,148.8h0.9M310.2,151.2h0.9M305.8,152.8h0.9M306.8,151.6h0.9M307.0,152.3h0.9M304.9,151.0h0.9M299.3,150.9h0.9M305.8,151.8h0.9M300.1,151.0h0.9M303.0,150.8h0.9M303.7,154.3h0.9M308.4,148.2h0.9M303.2,150.9h0.9M299.4,154.7h0.9M302.7,155.2h0.9M305.6,151.2h0.9M305.1,150.9h0.9M305.5,155.2h0.9M307.3,151.9h0.9M301.3,151.5h0.9M304.2,149.5h0.9M303.5,152.0h0.9M309.8,151.7h0.9M313.4,148.7h0.9M303.5,155.5h0.9M305.6,150.3h0.9M303.0,156.3h0.9M302.2,152.8h0.9M305.7,155.4h0.9M306.5,154.3h0.9M302.9,156.2h0.9M303.7,153.9h0.9M301.0,154.3h0.9M301.1,155.2h0.9" stroke="#78cc68" stroke-width="0.9" opacity="0.6" fill="none"/>
<path d="M316.0,156.6h0.9M307.0,147.5h0.9M315.8,152.0h0.9M306.3,147.0h0.9M315.6,145.2h0.9M306.7,154.2h0.9M308.2,152.4h0.9M313.4,152.8h0.9M317.4,153.0h0.9M307.4,147.3h0.9M308.0,149.0h0.9M312.8,154.7h0.9M315.5,148.9h0.9M311.4,151.0h0.9M306.7,154.9h0.9M314.3,152.1h0.9M304.9,154.4h0.9M308.5,150.9h0.9M308.2,152.4h0.9M309.9,156.1h0.9M309.2,150.2h0.9M319.9,153.3h0.9M314.9,152.6h0.9M309.7,152.0h0.9M313.8,151.3h0.9M306.6,149.3h0.9M307.6,148.8h0.9M303.9,150.7h0.9M316.2,150.1h0.9M313.3,146.9h0.9M315.3,147.6h0.9M314.9,148.8h0.9M305.8,147.2h0.9M301.1,150.3h0.9M303.2,150.3h0.9M318.0,148.5h0.9M307.8,150.7h0.9M305.7,150.9h0.9M311.6,154.1h0.9M304.9,150.4h0.9M308.9,154.7h0.9M303.0,151.5h0.9M315.4,152.8h0.9M305.0,147.9h0.9M308.2,146.5h0.9M315.9,151.5h0.9M308.3,149.4h0.9M313.3,150.1h0.9M313.5,149.6h0.9M317.4,146.1h0.9M302.5,156.4h0.9M317.3,155.9h0.9M304.5,153.2h0.9M317.0,153.7h0.9M308.7,155.4h0.9M312.9,147.1h0.9M318.8,148.9h0.9M303.5,153.6h0.9M315.8,148.8h0.9M311.7,147.0h0.9" stroke="#a0dc90" stroke-width="0.9" opacity="0.5" fill="none"/>
<path d="M280.0,167.9h0.9M295.5,165.0h0.9M298.6,164.9h0.9M290.1,162.0h0.9M290.9,164.8h0.9M281.4,161.6h0.9M288.4,176.5h0.9M288.6,172.3h0.9M285.4,165.7h0.9M282.4,177.2h0.9M282.2,171.6h0.9M295.0,164.9h0.9M283.8,166.7h0.9M285.6,161.7h0.9M292.7,172.1h0.9M281.6,162.6h0.9M293.1,173.3h0.9M293.1,166.2h0.9M298.1,159.8h0.9M280.0,163.7h0.9M290.6,170.1h0.9M279.2,159.3h0.9M292.0,168.3h0.9M289.3,163.2h0.9M292.0,164.3h0.9M298.5,179.7h0.9M295.0,162.9h0.9M287.4,162.5h0.9M285.2,166.9h0.9M292.2,160.8h0.9M288.2,175.9h0.9M295.4,169.8h0.9M281.2,168.7h0.9M293.1,161.2h0.9M285.9,168.0h0.9M279.9,167.4h0.9M284.4,171.0h0.9M280.2,165.0h0.9M284.3,164.4h0.9M282.5,166.8h0.9M291.9,176.0h0.9M285.4,165.5h0.9M291.4,166.8h0.9M284.7,167.3h0.9M284.1,162.9h0.9M291.7,166.5h0.9M292.2,175.6h0.9M283.5,160.8h0.9M284.4,165.3h0.9M286.0,159.7h0.9M288.5,159.3h0.9M294.0,169.2h0.9M292.6,164.7h0.9M283.8,166.4h0.9M279.7,174.0h0.9M289.7,174.4h0.9M283.0,170.1h0.9M290.0,170.6h0.9M284.8,176.1h0.9M282.9,175.4h0.9M297.5,159.0h0.9M284.5,157.5h0.9" stroke="#e8a0b0" stroke-width="0.9" opacity="0.6" fill="none"/>
<path d="M303.9,171.5h0.9M302.0,182.4h0.9M315.3,180.0h0.9M308.0,182.9h0.9M302.3,177.2h0.9M305.0,157.6h0.9M302.0,163.0h0.9M316.6,167.9h0.9M310.2,174.4h0.9M305.3,175.1h0.9M314.5,182.8h0.9M310.7,181.0h0.9M321.3,178.6h0.9M308.8,165.0h0.9M301.4,180.4h0.9M302.2,172.9h0.9M309.5,158.7h0.9M304.1,180.1h0.9M311.5,182.9h0.9M319.9,160.1h0.9M314.7,158.7h0.9M308.8,169.6h0.9M321.0,173.9h0.9M303.5,171.5h0.9M311.1,162.9h0.9" stroke="#b0b0c8" stroke-width="0.9" opacity="0.5" fill="none"/>
</g>
<rect x="278.0" y="124.3" width="70.4" height="71.0" fill="none" stroke="#7f937f" stroke-width="0.9"/>
<line x1="276.5" y1="195.3" x2="278.0" y2="195.3" stroke="#7f937f" stroke-width="0.6"/>
<rect x="273.4" y="194.0" width="1.3" height="2.6" fill="#93ad93"/>
<line x1="278.0" y1="195.3" x2="278.0" y2="196.60000000000002" stroke="#7f937f" stroke-width="0.6"/>
<rect x="275.8" y="197.9" width="4.4" height="1.3" fill="#9ab89a"/>
<line x1="276.5" y1="177.6" x2="278.0" y2="177.6" stroke="#7f937f" stroke-width="0.6"/>
<rect x="273.4" y="176.2" width="1.3" height="2.6" fill="#93ad93"/>
<line x1="295.6" y1="195.3" x2="295.6" y2="196.60000000000002" stroke="#7f937f" stroke-width="0.6"/>
<rect x="293.4" y="197.9" width="4.4" height="1.3" fill="#9ab89a"/>
<line x1="276.5" y1="159.8" x2="278.0" y2="159.8" stroke="#7f937f" stroke-width="0.6"/>
<rect x="273.4" y="158.5" width="1.3" height="2.6" fill="#93ad93"/>
<line x1="313.2" y1="195.3" x2="313.2" y2="196.60000000000002" stroke="#7f937f" stroke-width="0.6"/>
<rect x="311.0" y="197.9" width="4.4" height="1.3" fill="#9ab89a"/>
<line x1="276.5" y1="142.1" x2="278.0" y2="142.1" stroke="#7f937f" stroke-width="0.6"/>
<rect x="273.4" y="140.8" width="1.3" height="2.6" fill="#93ad93"/>
<line x1="330.8" y1="195.3" x2="330.8" y2="196.60000000000002" stroke="#7f937f" stroke-width="0.6"/>
<rect x="328.6" y="197.9" width="4.4" height="1.3" fill="#9ab89a"/>
<line x1="276.5" y1="124.3" x2="278.0" y2="124.3" stroke="#7f937f" stroke-width="0.6"/>
<rect x="273.4" y="123.0" width="1.3" height="2.6" fill="#93ad93"/>
<line x1="348.4" y1="195.3" x2="348.4" y2="196.60000000000002" stroke="#7f937f" stroke-width="0.6"/>
<rect x="346.2" y="197.9" width="4.4" height="1.3" fill="#9ab89a"/>
<line x1="299.0" y1="124.3" x2="299.0" y2="195.3" stroke="#cf8090" stroke-width="0.8"/>
<line x1="278.0" y1="157.2" x2="348.4" y2="157.2" stroke="#cf8090" stroke-width="0.8"/>
<circle cx="333.7" cy="157.2" r="1" fill="#b03048"/>
<circle cx="299.0" cy="134.3" r="0.9" fill="#b03048"/>
<text x="279.8" y="138.8" font-size="8.3" font-weight="bold" stroke="#111" stroke-width="0.15" textLength="13.8" lengthAdjust="spacingAndGlyphs" fill="#111" font-family="Liberation Sans, sans-serif">78.1</text>
<text x="303.9" y="138.8" font-size="8.3" font-weight="bold" stroke="#111" stroke-width="0.15" textLength="9.7" lengthAdjust="spacingAndGlyphs" fill="#111" font-family="Liberation Sans, sans-serif">9.5</text>
<text x="279.6" y="189" font-size="8.3" font-weight="bold" stroke="#111" stroke-width="0.15" textLength="13.7" lengthAdjust="spacingAndGlyphs" fill="#111" font-family="Liberation Sans, sans-serif">10.5</text>
<text x="304.8" y="189" font-size="8.3" font-weight="bold" stroke="#111" stroke-width="0.15" textLength="10.1" lengthAdjust="spacingAndGlyphs" fill="#111" font-family="Liberation Sans, sans-serif">1.8</text>
<text x="306.5" y="210.7" font-size="8.8" font-weight="bold" text-anchor="middle" fill="#111" font-family="Liberation Sans, sans-serif">Sh control</text>
<rect x="355.0" y="122.7" width="77.0" height="76.5" fill="#e8f8e4"/>
<rect x="355.0" y="122.7" width="6.2" height="76.5" fill="#d2f0cb"/>
<rect x="361.2" y="193.9" width="68.8" height="5.3" fill="#d6f2cf"/>
<rect x="361.2" y="124.3" width="68.8" height="69.6" fill="#fff"/>
<g filter="url(#bl)">
<path d="M373.8,152.5h0.9M376.8,147.1h0.9M368.1,149.4h0.9M363.5,149.0h0.9M367.4,151.0h0.9M364.7,153.5h0.9M379.3,150.6h0.9M365.8,152.9h0.9M372.6,152.2h0.9M365.0,152.7h0.9M362.1,151.3h0.9M371.1,152.8h0.9M369.3,153.7h0.9M369.0,150.0h0.9M380.8,148.1h0.9M375.0,151.5h0.9M371.3,146.5h0.9M362.6,153.0h0.9M377.3,149.7h0.9M369.7,148.0h0.9M372.1,155.1h0.9M369.7,150.0h0.9M375.6,150.5h0.9M376.1,150.4h0.9M362.5,151.9h0.9M365.6,148.2h0.9M369.2,154.2h0.9M369.0,151.0h0.9M375.8,146.9h0.9M374.8,150.7h0.9M370.9,150.8h0.9M367.8,149.7h0.9M377.7,154.6h0.9M374.2,149.9h0.9M377.5,152.7h0.9M376.3,152.4h0.9M372.6,150.1h0.9M369.4,152.7h0.9M375.0,151.9h0.9M377.3,152.7h0.9M362.4,148.2h0.9M375.8,154.1h0.9M378.5,152.7h0.9M372.2,146.3h0.9M380.6,148.6h0.9M378.1,147.8h0.9M366.1,152.4h0.9M367.8,149.4h0.9M377.1,154.3h0.9M373.6,150.7h0.9M365.0,150.2h0.9M367.1,151.8h0.9M376.2,151.3h0.9M365.3,149.7h0.9M379.9,152.5h0.9M372.5,152.9h0.9M375.1,152.4h0.9M379.2,154.8h0.9M371.8,155.8h0.9M362.1,147.6h0.9M369.6,149.4h0.9M363.4,154.0h0.9M372.9,152.0h0.9M368.1,152.9h0.9M370.1,149.4h0.9M374.6,153.3h0.9M371.6,154.4h0.9M363.2,151.5h0.9M363.3,153.7h0.9M369.0,151.4h0.9M363.6,154.1h0.9M372.3,153.4h0.9M373.2,148.8h0.9M366.6,150.1h0.9M377.7,151.7h0.9M375.8,153.8h0.9M376.6,147.6h0.9M378.6,152.4h0.9M364.2,154.1h0.9M376.1,153.3h0.9M374.2,156.3h0.9M364.9,154.5h0.9M371.2,148.5h0.9M373.6,153.2h0.9M370.4,151.3h0.9M364.4,146.9h0.9M369.6,147.9h0.9M366.2,155.0h0.9M372.7,149.4h0.9M363.1,151.3h0.9M369.5,154.4h0.9M365.6,152.2h0.9M379.1,149.7h0.9M372.3,150.6h0.9M375.4,154.9h0.9M373.7,152.6h0.9M368.8,150.5h0.9M369.5,154.4h0.9M365.9,147.4h0.9M363.1,153.6h0.9M377.7,154.8h0.9M377.9,154.4h0.9M369.8,149.4h0.9M377.1,149.6h0.9M368.9,148.6h0.9M367.5,151.1h0.9M369.4,152.3h0.9M374.5,155.8h0.9M363.9,152.4h0.9M368.8,148.2h0.9M377.1,151.3h0.9M370.7,146.9h0.9M362.5,155.0h0.9M380.8,151.3h0.9M378.8,152.3h0.9M363.4,146.8h0.9M369.8,147.3h0.9M381.4,155.8h0.9M371.5,149.7h0.9M370.7,147.4h0.9M377.2,155.7h0.9M366.1,153.1h0.9M363.8,150.4h0.9M371.5,152.1h0.9M364.6,147.1h0.9M368.2,154.4h0.9M369.3,152.0h0.9M381.3,154.8h0.9M372.5,148.5h0.9M365.4,146.5h0.9M373.5,150.6h0.9M374.6,154.9h0.9M365.3,152.6h0.9M379.9,152.3h0.9M377.5,151.3h0.9M364.3,151.2h0.9M362.3,152.4h0.9M373.4,151.3h0.9M373.7,149.3h0.9M363.4,147.0h0.9M367.0,149.1h0.9M372.7,150.7h0.9M366.3,149.4h0.9M373.9,147.3h0.9M369.2,154.4h0.9M366.1,152.7h0.9M380.9,156.2h0.9M366.2,154.3h0.9M369.8,153.3h0.9M366.9,152.6h0.9M365.6,153.0h0.9M361.7,153.8h0.9M376.6,150.7h0.9M375.2,153.5h0.9M366.4,154.3h0.9M372.4,149.6h0.9M374.6,147.4h0.9M378.4,150.1h0.9" stroke="#c860d8" stroke-width="0.9" opacity="0.7" fill="none"/>
<path d="M367.5,181.5h0.9M366.8,159.6h0.9M366.6,171.8h0.9M376.3,165.5h0.9M371.2,169.7h0.9M366.1,175.6h0.9M370.5,157.3h0.9M365.0,166.1h0.9M373.5,159.4h0.9M367.8,181.9h0.9M373.6,175.1h0.9M372.8,166.0h0.9M373.0,173.3h0.9M370.0,178.4h0.9M370.0,177.2h0.9M370.1,175.4h0.9M365.1,162.2h0.9M361.7,180.3h0.9M373.6,170.1h0.9M374.4,159.5h0.9M370.7,162.7h0.9M363.7,182.5h0.9M364.6,161.6h0.9M377.0,167.8h0.9M364.6,185.4h0.9M362.4,160.3h0.9M363.1,170.9h0.9M367.9,167.5h0.9M375.3,172.0h0.9M370.3,166.7h0.9M375.1,173.7h0.9M371.8,173.0h0.9M368.5,164.2h0.9M380.0,165.4h0.9M370.4,179.4h0.9M366.4,166.0h0.9M367.5,168.0h0.9M373.7,157.1h0.9M375.2,177.0h0.9M372.4,171.7h0.9M373.8,172.3h0.9M374.6,170.3h0.9M362.9,177.6h0.9M373.6,165.0h0.9M380.2,179.4h0.9M366.6,163.1h0.9M365.8,173.9h0.9M363.3,172.4h0.9M364.4,169.4h0.9M371.4,183.4h0.9M378.7,170.4h0.9M371.4,174.3h0.9M367.7,157.1h0.9M368.4,166.4h0.9M371.1,172.5h0.9M364.2,158.6h0.9M364.3,169.9h0.9M373.3,186.0h0.9M368.3,160.3h0.9M377.4,160.5h0.9M363.8,173.4h0.9M368.6,157.2h0.9M368.1,163.7h0.9M368.4,160.4h0.9M374.1,164.3h0.9M365.7,178.8h0.9M363.3,175.6h0.9M374.2,164.9h0.9M371.7,157.4h0.9M363.8,170.6h0.9M364.7,169.3h0.9M372.9,178.6h0.9M372.8,178.5h0.9M364.6,164.2h0.9M374.6,180.0h0.9M373.2,162.5h0.9M362.3,158.3h0.9M377.9,158.0h0.9M368.3,174.4h0.9M373.1,160.8h0.9M372.0,176.2h0.9M367.7,175.0h0.9M369.0,159.0h0.9M363.2,171.8h0.9M370.7,166.3h0.9M366.7,165.4h0.9M375.6,179.1h0.9M368.2,170.6h0.9M365.0,158.8h0.9M373.4,174.9h0.9M373.2,182.9h0.9M376.6,158.5h0.9M370.5,174.9h0.9M379.6,173.6h0.9M376.3,178.6h0.9M364.2,174.8h0.9M376.9,166.2h0.9M363.2,169.5h0.9M371.1,175.0h0.9M368.9,165.0h0.9M368.1,158.2h0.9M366.8,167.6h0.9M370.3,170.2h0.9M366.3,168.7h0.9M373.9,174.9h0.9M377.2,175.6h0.9M378.9,175.7h0.9M366.4,170.1h0.9M366.2,181.6h0.9M366.1,175.2h0.9M378.4,161.6h0.9M379.6,178.9h0.9M376.6,160.7h0.9M371.6,167.5h0.9M362.8,184.1h0.9M380.4,168.8h0.9M381.1,167.9h0.9M371.8,165.0h0.9M363.3,172.1h0.9M371.1,162.2h0.9M379.0,171.7h0.9M367.3,160.6h0.9M371.7,166.4h0.9M370.3,185.6h0.9M375.6,161.8h0.9M372.9,165.4h0.9M367.9,165.9h0.9M370.5,174.5h0.9M377.1,168.4h0.9M364.3,168.0h0.9M368.7,165.3h0.9M375.2,175.5h0.9M363.5,170.4h0.9M379.0,165.9h0.9M362.5,166.9h0.9M374.9,179.5h0.9M374.5,174.7h0.9M380.8,170.3h0.9M379.9,166.0h0.9M365.2,164.8h0.9M362.7,172.0h0.9M365.1,171.7h0.9M372.2,184.4h0.9M368.8,166.4h0.9M365.7,186.1h0.9M378.7,165.9h0.9M370.2,183.8h0.9M361.9,163.7h0.9M370.2,157.6h0.9M373.4,166.7h0.9M362.0,159.9h0.9M376.8,166.0h0.9M367.8,159.0h0.9M371.9,159.2h0.9M376.2,179.8h0.9M365.8,159.7h0.9M372.6,158.4h0.9M377.7,161.2h0.9M361.6,176.1h0.9M368.4,169.7h0.9M366.7,169.4h0.9M376.2,164.6h0.9M375.7,185.1h0.9M368.7,171.6h0.9M364.2,162.0h0.9M376.6,162.7h0.9M371.1,169.1h0.9M378.0,170.2h0.9M369.5,164.8h0.9M366.2,178.0h0.9M377.1,157.9h0.9M365.6,164.8h0.9M366.8,164.1h0.9M365.7,185.8h0.9M364.5,169.7h0.9M370.7,187.3h0.9M374.4,167.3h0.9M370.6,186.2h0.9M369.1,161.0h0.9M365.6,164.2h0.9M376.1,157.9h0.9M365.9,167.6h0.9M363.4,174.3h0.9M367.2,172.8h0.9M373.5,182.7h0.9M373.2,173.1h0.9M369.9,167.5h0.9M380.5,176.7h0.9M371.5,174.0h0.9M366.9,180.2h0.9M366.5,168.9h0.9M374.2,166.4h0.9M373.7,170.2h0.9M367.3,168.4h0.9M371.7,160.2h0.9M371.9,178.0h0.9M376.6,177.4h0.9M365.5,169.5h0.9M376.2,170.2h0.9M370.8,162.3h0.9M371.3,181.8h0.9M378.9,186.7h0.9M373.5,168.9h0.9M379.6,178.5h0.9M365.1,161.9h0.9M381.0,163.7h0.9M373.0,180.0h0.9M371.3,168.2h0.9M377.5,180.4h0.9M380.4,166.2h0.9M364.2,169.0h0.9M379.0,173.5h0.9M373.4,166.8h0.9M361.9,183.5h0.9M373.3,175.0h0.9M367.0,167.0h0.9M378.2,162.4h0.9M370.9,160.9h0.9M368.5,171.7h0.9M372.9,177.9h0.9M373.2,160.2h0.9M379.1,161.4h0.9M367.5,173.3h0.9M379.8,164.0h0.9M380.2,172.1h0.9M364.7,175.3h0.9M370.5,160.9h0.9M369.0,180.4h0.9M372.5,165.6h0.9M374.5,181.2h0.9M362.0,157.2h0.9M364.1,166.0h0.9M364.8,167.9h0.9M363.1,170.8h0.9M374.0,172.5h0.9M366.1,176.3h0.9M369.5,180.7h0.9M367.4,174.1h0.9M381.3,187.5h0.9M371.9,173.0h0.9M374.7,173.2h0.9M369.2,168.5h0.9M372.3,162.4h0.9M365.6,173.9h0.9M373.1,174.5h0.9M369.4,175.7h0.9M370.9,180.0h0.9M372.3,160.1h0.9M363.0,173.8h0.9M374.3,167.4h0.9M372.0,160.1h0.9M362.4,162.3h0.9M364.5,164.0h0.9M370.8,168.5h0.9M367.1,169.1h0.9M374.3,158.0h0.9M372.7,173.9h0.9M377.4,166.9h0.9M371.4,171.3h0.9M371.5,162.9h0.9M367.9,161.6h0.9M370.5,165.1h0.9M364.3,165.6h0.9M381.3,167.7h0.9M378.4,162.8h0.9M373.7,157.5h0.9M369.8,176.1h0.9M369.9,170.3h0.9M364.8,161.1h0.9M371.9,166.3h0.9M370.9,161.6h0.9M367.4,175.4h0.9M379.7,164.2h0.9M365.6,169.3h0.9M376.4,170.8h0.9M377.5,166.2h0.9M375.9,170.6h0.9M365.6,171.5h0.9M362.1,178.1h0.9M377.1,179.5h0.9M367.0,182.0h0.9M375.7,183.7h0.9M379.0,165.3h0.9M376.6,169.3h0.9M380.1,165.8h0.9M362.9,159.3h0.9M370.7,168.7h0.9M373.1,183.3h0.9M371.3,166.4h0.9M375.3,169.4h0.9M379.2,169.5h0.9M378.1,177.2h0.9M365.6,171.9h0.9M375.5,169.7h0.9M370.3,175.4h0.9M372.2,182.5h0.9M368.1,162.4h0.9M370.2,167.8h0.9M378.9,164.4h0.9M366.5,161.6h0.9M371.0,173.1h0.9M371.2,160.6h0.9M376.4,175.2h0.9M371.9,174.4h0.9M369.4,172.1h0.9M366.7,161.2h0.9M372.1,168.0h0.9M368.9,172.0h0.9M364.9,162.1h0.9M379.5,164.8h0.9M377.4,167.8h0.9M368.0,164.4h0.9M371.0,181.9h0.9M375.3,176.2h0.9M363.7,160.9h0.9M372.6,173.3h0.9M362.8,178.3h0.9M365.7,170.7h0.9M366.8,175.3h0.9M376.1,178.1h0.9M363.9,169.6h0.9M373.3,169.4h0.9M366.6,185.0h0.9M380.9,161.4h0.9M373.6,186.4h0.9M373.3,169.0h0.9M376.9,176.3h0.9M361.8,160.2h0.9M381.1,162.6h0.9M369.8,161.8h0.9M371.4,164.4h0.9M364.6,166.2h0.9M370.7,159.6h0.9M369.7,163.8h0.9M369.3,165.7h0.9M373.3,168.2h0.9M368.7,171.4h0.9M374.4,163.0h0.9M372.3,173.7h0.9M368.6,181.8h0.9M374.8,161.0h0.9M365.7,164.3h0.9M374.7,159.5h0.9M364.6,184.6h0.9M362.8,170.7h0.9M372.6,158.5h0.9M379.6,173.0h0.9M363.0,166.3h0.9M374.2,173.6h0.9M375.5,181.2h0.9M368.2,183.3h0.9M364.3,174.8h0.9M376.6,178.8h0.9M374.4,170.5h0.9M369.7,185.0h0.9M373.4,178.7h0.9M368.3,171.4h0.9M361.9,173.2h0.9M371.9,164.3h0.9M369.9,168.9h0.9M371.4,175.6h0.9M371.8,179.2h0.9M362.0,166.3h0.9M377.0,170.5h0.9M376.3,174.5h0.9M372.1,162.6h0.9M374.5,180.3h0.9M375.4,177.9h0.9M373.2,172.5h0.9M363.8,183.1h0.9M362.7,159.2h0.9M365.1,160.8h0.9M379.3,166.0h0.9M368.2,165.3h0.9M370.0,181.3h0.9M380.5,163.7h0.9M372.2,181.1h0.9M370.9,171.3h0.9M364.0,162.2h0.9M366.2,179.1h0.9M370.1,175.8h0.9M372.4,159.5h0.9M369.7,168.7h0.9M363.8,173.7h0.9M367.7,184.5h0.9M375.2,166.0h0.9M374.1,168.6h0.9M367.0,162.5h0.9M372.9,166.6h0.9M375.2,162.3h0.9M375.6,163.6h0.9M378.0,177.6h0.9M372.4,161.1h0.9M370.8,160.3h0.9M362.3,163.1h0.9M362.4,161.3h0.9M363.7,172.1h0.9M366.7,167.3h0.9M368.8,164.3h0.9M363.4,173.7h0.9M373.1,161.5h0.9M381.1,158.8h0.9M378.1,169.5h0.9M373.6,163.6h0.9M370.4,166.8h0.9M372.7,161.2h0.9M380.1,165.3h0.9M371.2,158.1h0.9M370.1,182.8h0.9M372.0,160.6h0.9M366.1,173.6h0.9M368.7,188.0h0.9M371.5,168.1h0.9M374.9,184.0h0.9M368.7,166.9h0.9M375.8,174.2h0.9M374.4,173.8h0.9M380.2,164.7h0.9M363.6,172.9h0.9M376.9,172.7h0.9M375.4,177.7h0.9M372.9,158.7h0.9M376.4,162.6h0.9M364.4,168.0h0.9M376.8,167.0h0.9M369.5,175.6h0.9M368.5,174.7h0.9M378.7,161.1h0.9M373.0,169.4h0.9M363.1,183.2h0.9M370.7,174.5h0.9M372.6,166.6h0.9M363.8,182.3h0.9M373.1,162.3h0.9M367.4,178.9h0.9M371.0,159.0h0.9M377.2,164.0h0.9M377.2,169.9h0.9M365.6,166.8h0.9M376.9,158.8h0.9M364.3,167.0h0.9M373.8,174.0h0.9M369.3,165.7h0.9M366.5,156.9h0.9M363.6,162.7h0.9M366.6,180.6h0.9M370.8,181.1h0.9M378.6,169.2h0.9M370.3,169.5h0.9M363.9,165.0h0.9M362.5,176.3h0.9M365.9,179.8h0.9M362.7,156.9h0.9M363.2,162.4h0.9M370.5,166.1h0.9M371.0,162.1h0.9M374.3,181.6h0.9M363.8,170.6h0.9M372.0,169.5h0.9M369.6,172.5h0.9M368.5,161.7h0.9M364.6,175.1h0.9M366.7,162.8h0.9M375.8,177.7h0.9M362.5,180.0h0.9M372.3,183.0h0.9M366.4,174.3h0.9M374.9,183.2h0.9M370.8,166.0h0.9M364.0,165.5h0.9M370.5,186.8h0.9M370.3,178.3h0.9M366.5,170.2h0.9M369.8,168.8h0.9M373.2,171.5h0.9M368.4,166.5h0.9M363.2,174.4h0.9M369.9,163.8h0.9M381.4,165.7h0.9M362.8,159.2h0.9M368.0,157.3h0.9M371.7,157.8h0.9M366.1,166.9h0.9M374.0,164.1h0.9M370.5,171.0h0.9M363.8,172.9h0.9M371.8,162.4h0.9M377.1,169.5h0.9M377.1,181.8h0.9M368.8,173.3h0.9M373.7,172.4h0.9M369.0,163.3h0.9M375.0,169.8h0.9M380.9,172.2h0.9M369.0,170.4h0.9M368.9,160.7h0.9M370.7,183.2h0.9M362.0,172.7h0.9M368.2,167.7h0.9M372.2,161.3h0.9M365.3,177.2h0.9M375.1,174.7h0.9M364.3,160.2h0.9M370.5,185.8h0.9M379.8,164.7h0.9M366.0,166.7h0.9M367.0,177.8h0.9M364.3,170.8h0.9M365.6,162.4h0.9M369.1,171.5h0.9M366.9,170.3h0.9M363.9,179.0h0.9M364.2,180.0h0.9M373.5,174.1h0.9M371.8,170.5h0.9M369.0,173.7h0.9M376.4,169.8h0.9M377.0,174.0h0.9M365.9,169.6h0.9M376.9,159.2h0.9M370.3,160.6h0.9M370.7,161.7h0.9" stroke="#e4687a" stroke-width="0.9" opacity="0.55" fill="none"/>
<path d="M389.1,152.1h0.9M391.9,155.7h0.9M386.3,153.9h0.9M382.2,152.7h0.9M384.0,149.8h0.9M382.7,156.2h0.9M384.3,152.9h0.9M383.6,151.8h0.9M384.3,152.6h0.9M386.0,155.0h0.9M385.7,152.5h0.9M383.4,154.3h0.9M387.1,152.1h0.9M385.9,155.9h0.9M385.2,154.9h0.9M390.7,154.9h0.9M382.8,149.1h0.9M384.1,153.2h0.9M382.3,148.1h0.9M383.8,152.3h0.9M387.8,149.8h0.9M386.0,152.4h0.9M386.3,153.3h0.9M382.7,153.9h0.9M391.5,153.5h0.9M391.0,152.1h0.9M385.9,149.4h0.9M386.5,150.9h0.9M386.6,151.7h0.9M386.6,153.7h0.9M386.0,156.4h0.9M389.0,151.0h0.9M383.1,152.7h0.9M387.9,151.3h0.9M384.7,151.0h0.9M386.0,153.8h0.9M382.6,154.9h0.9M382.7,152.8h0.9M386.4,150.3h0.9M384.6,150.0h0.9M388.6,152.3h0.9M385.2,154.3h0.9M382.3,152.1h0.9M385.2,154.9h0.9M389.6,153.0h0.9M385.2,150.5h0.9M383.7,152.4h0.9M384.9,151.1h0.9M382.8,154.8h0.9M389.8,154.4h0.9M390.6,152.9h0.9M384.5,153.3h0.9M382.2,152.2h0.9M384.0,148.1h0.9M385.8,154.2h0.9M389.6,152.4h0.9M389.1,150.8h0.9M389.3,151.0h0.9M385.4,149.5h0.9M390.8,151.8h0.9M389.1,152.6h0.9M386.5,154.6h0.9M382.3,153.9h0.9M384.8,150.4h0.9M389.0,152.4h0.9M389.7,153.2h0.9M384.8,151.4h0.9M385.9,151.3h0.9" stroke="#70c860" stroke-width="0.9" opacity="0.8" fill="none"/>
<path d="M391.5,157.6h0.9M393.6,158.8h0.9M386.4,157.3h0.9M390.9,166.9h0.9M392.5,170.6h0.9M385.8,159.6h0.9M392.0,165.3h0.9M388.5,161.1h0.9M384.7,165.7h0.9M388.5,170.1h0.9M390.5,171.2h0.9M385.3,160.5h0.9M382.2,163.3h0.9M386.6,164.6h0.9M390.0,169.8h0.9M382.1,162.7h0.9M389.7,167.9h0.9M386.5,161.5h0.9M393.3,163.3h0.9M381.9,167.7h0.9M388.2,165.3h0.9M382.6,164.0h0.9M391.3,165.9h0.9M393.5,159.0h0.9M400.2,159.1h0.9M392.6,166.5h0.9M389.1,164.6h0.9M383.3,158.4h0.9M382.7,161.4h0.9M386.7,164.7h0.9M398.0,157.0h0.9M390.8,170.8h0.9M386.8,167.8h0.9M388.5,160.2h0.9M384.7,165.6h0.9M396.3,158.9h0.9M389.0,157.9h0.9M389.7,166.2h0.9M384.3,161.7h0.9M381.9,166.6h0.9M385.9,160.6h0.9M388.6,156.9h0.9M393.8,162.7h0.9M387.9,161.6h0.9M393.4,161.5h0.9M391.9,164.1h0.9M386.1,157.2h0.9M385.9,168.6h0.9M394.3,164.0h0.9M387.5,166.8h0.9M395.7,160.6h0.9M390.6,170.0h0.9M382.3,164.9h0.9M386.4,164.3h0.9M391.9,160.5h0.9M389.4,170.5h0.9M391.1,164.5h0.9M388.0,162.0h0.9M392.8,160.3h0.9M385.4,158.5h0.9M385.8,162.4h0.9M387.3,160.4h0.9M388.3,165.3h0.9M387.5,162.1h0.9M389.4,166.2h0.9M387.7,162.2h0.9M398.8,168.3h0.9M383.5,158.3h0.9M387.4,157.9h0.9M391.3,170.9h0.9M389.6,165.0h0.9M390.0,164.0h0.9M387.5,156.9h0.9M384.5,163.2h0.9M395.8,160.4h0.9M390.3,157.8h0.9M394.1,165.0h0.9M384.4,157.7h0.9M391.1,161.2h0.9M393.9,157.6h0.9M385.7,172.2h0.9M383.3,163.5h0.9M386.7,166.3h0.9M390.5,158.0h0.9M387.1,163.4h0.9M384.4,162.5h0.9M382.3,164.4h0.9M382.7,165.8h0.9M382.8,157.0h0.9M389.0,157.6h0.9" stroke="#8a90d8" stroke-width="0.9" opacity="0.55" fill="none"/>
</g>
<rect x="361.2" y="124.3" width="68.8" height="69.6" fill="none" stroke="#7f937f" stroke-width="0.9"/>
<line x1="359.7" y1="193.9" x2="361.2" y2="193.9" stroke="#7f937f" stroke-width="0.6"/>
<rect x="356.6" y="192.6" width="1.3" height="2.6" fill="#93ad93"/>
<line x1="361.2" y1="193.9" x2="361.2" y2="195.20000000000002" stroke="#7f937f" stroke-width="0.6"/>
<rect x="359.0" y="196.5" width="4.4" height="1.3" fill="#9ab89a"/>
<line x1="359.7" y1="176.5" x2="361.2" y2="176.5" stroke="#7f937f" stroke-width="0.6"/>
<rect x="356.6" y="175.2" width="1.3" height="2.6" fill="#93ad93"/>
<line x1="378.4" y1="193.9" x2="378.4" y2="195.20000000000002" stroke="#7f937f" stroke-width="0.6"/>
<rect x="376.2" y="196.5" width="4.4" height="1.3" fill="#9ab89a"/>
<line x1="359.7" y1="159.1" x2="361.2" y2="159.1" stroke="#7f937f" stroke-width="0.6"/>
<rect x="356.6" y="157.8" width="1.3" height="2.6" fill="#93ad93"/>
<line x1="395.6" y1="193.9" x2="395.6" y2="195.20000000000002" stroke="#7f937f" stroke-width="0.6"/>
<rect x="393.4" y="196.5" width="4.4" height="1.3" fill="#9ab89a"/>
<line x1="359.7" y1="141.7" x2="361.2" y2="141.7" stroke="#7f937f" stroke-width="0.6"/>
<rect x="356.6" y="140.4" width="1.3" height="2.6" fill="#93ad93"/>
<line x1="412.8" y1="193.9" x2="412.8" y2="195.20000000000002" stroke="#7f937f" stroke-width="0.6"/>
<rect x="410.6" y="196.5" width="4.4" height="1.3" fill="#9ab89a"/>
<line x1="359.7" y1="124.3" x2="361.2" y2="124.3" stroke="#7f937f" stroke-width="0.6"/>
<rect x="356.6" y="123.0" width="1.3" height="2.6" fill="#93ad93"/>
<line x1="430.0" y1="193.9" x2="430.0" y2="195.20000000000002" stroke="#7f937f" stroke-width="0.6"/>
<rect x="427.8" y="196.5" width="4.4" height="1.3" fill="#9ab89a"/>
<line x1="381.6" y1="124.3" x2="381.6" y2="193.9" stroke="#cf8090" stroke-width="0.8"/>
<line x1="361.2" y1="156.6" x2="430.0" y2="156.6" stroke="#cf8090" stroke-width="0.8"/>
<circle cx="414.8" cy="156.6" r="1" fill="#b03048"/>
<circle cx="381.6" cy="133.8" r="0.9" fill="#b03048"/>
<text x="363.2" y="140.8" font-size="8.3" font-weight="bold" stroke="#111" stroke-width="0.15" textLength="14.1" lengthAdjust="spacingAndGlyphs" fill="#111" font-family="Liberation Sans, sans-serif">40.0</text>
<text x="387.9" y="140.8" font-size="8.3" font-weight="bold" stroke="#111" stroke-width="0.15" textLength="9.3" lengthAdjust="spacingAndGlyphs" fill="#111" font-family="Liberation Sans, sans-serif">5.1</text>
<text x="363.5" y="189.3" font-size="8.3" font-weight="bold" stroke="#111" stroke-width="0.15" textLength="13.6" lengthAdjust="spacingAndGlyphs" fill="#111" font-family="Liberation Sans, sans-serif">49.7</text>
<text x="393.4" y="189.3" font-size="8.3" font-weight="bold" stroke="#111" stroke-width="0.15" textLength="10.0" lengthAdjust="spacingAndGlyphs" fill="#111" font-family="Liberation Sans, sans-serif">5.3</text>
<text x="394" y="210.7" font-size="8.8" font-weight="bold" text-anchor="middle" fill="#111" font-family="Liberation Sans, sans-serif">Sh TfR2 A</text>
<rect x="439.0" y="121.7" width="77.0" height="75.7" fill="#e8f8e4"/>
<rect x="439.0" y="121.7" width="6.3" height="75.7" fill="#d2f0cb"/>
<rect x="445.3" y="192.7" width="69.1" height="4.7" fill="#d6f2cf"/>
<rect x="445.3" y="123.3" width="69.1" height="69.4" fill="#fff"/>
<g filter="url(#bl)">
<path d="M455.7,159.0h0.9M448.5,158.1h0.9M453.2,153.6h0.9M454.7,157.1h0.9M462.9,154.4h0.9M459.1,151.0h0.9M452.4,152.9h0.9M453.8,153.3h0.9M455.5,149.7h0.9M454.4,155.4h0.9M460.3,151.5h0.9M452.2,147.2h0.9M451.5,146.6h0.9M457.3,153.4h0.9M458.2,156.4h0.9M462.3,153.7h0.9M450.9,152.3h0.9M448.1,154.3h0.9M449.5,158.3h0.9M448.3,147.0h0.9M453.0,152.6h0.9M462.5,151.9h0.9M453.9,152.1h0.9M459.5,150.4h0.9M454.4,155.8h0.9M465.7,157.9h0.9M451.6,155.6h0.9M451.7,160.4h0.9M456.5,153.7h0.9M453.4,153.8h0.9M453.8,151.3h0.9M454.0,155.8h0.9M453.6,154.0h0.9M457.3,158.0h0.9M451.9,153.2h0.9M448.1,162.9h0.9M460.4,152.4h0.9M446.8,155.6h0.9M449.2,150.7h0.9M445.9,152.7h0.9M462.8,152.9h0.9M455.5,157.5h0.9M463.4,153.9h0.9M454.0,154.3h0.9M447.1,156.9h0.9M464.6,155.1h0.9M453.3,153.6h0.9M449.5,151.6h0.9M452.2,151.5h0.9M451.9,148.8h0.9M457.5,154.7h0.9M446.9,146.2h0.9M454.9,158.5h0.9M449.9,152.8h0.9M451.0,156.9h0.9M448.6,158.0h0.9M452.9,157.8h0.9M455.2,153.7h0.9M453.2,156.9h0.9M456.7,152.0h0.9M457.9,158.1h0.9M454.0,152.9h0.9M452.2,157.4h0.9M458.8,151.2h0.9M457.6,152.8h0.9M449.7,159.0h0.9M460.7,151.9h0.9M455.6,156.3h0.9M450.5,154.1h0.9M459.7,148.1h0.9M457.3,157.2h0.9M458.5,149.7h0.9M457.2,151.4h0.9M459.0,156.7h0.9M456.5,151.7h0.9M450.9,157.6h0.9M448.7,156.3h0.9M458.6,153.5h0.9M459.5,153.4h0.9M454.6,147.6h0.9M450.6,150.8h0.9M453.4,157.7h0.9M455.4,155.8h0.9M450.1,152.9h0.9M455.8,153.5h0.9M463.9,151.3h0.9M462.4,151.7h0.9M457.8,157.2h0.9M450.6,150.7h0.9M450.1,152.4h0.9M454.8,161.7h0.9M452.2,156.4h0.9M460.9,160.1h0.9M455.4,154.1h0.9M460.3,155.4h0.9M454.0,158.9h0.9M448.0,156.4h0.9M455.1,154.3h0.9M458.4,155.1h0.9M456.9,155.5h0.9M462.1,156.7h0.9M452.6,157.4h0.9M449.0,158.7h0.9M449.3,152.7h0.9M457.3,157.5h0.9M461.4,157.7h0.9M453.6,151.1h0.9M458.8,155.6h0.9M448.3,158.0h0.9M456.4,151.1h0.9M458.1,149.7h0.9M448.9,155.9h0.9M449.9,155.2h0.9M461.6,156.1h0.9M461.2,153.1h0.9M464.9,150.7h0.9M454.4,158.5h0.9M464.2,159.1h0.9M447.3,148.1h0.9M457.7,149.3h0.9M454.1,149.9h0.9M462.4,157.4h0.9M458.9,154.6h0.9M455.3,153.4h0.9M457.7,155.4h0.9M458.2,153.0h0.9M464.8,159.3h0.9M448.8,148.4h0.9M463.8,153.1h0.9M455.6,153.6h0.9M455.9,150.2h0.9M454.3,152.8h0.9M454.9,146.1h0.9M460.7,155.7h0.9M455.2,156.8h0.9M455.0,159.5h0.9M455.2,150.9h0.9M450.3,157.2h0.9M450.7,157.5h0.9M462.1,156.6h0.9M462.1,153.9h0.9M454.9,152.4h0.9M450.7,148.9h0.9M451.1,150.6h0.9M458.2,153.3h0.9M464.6,157.9h0.9M462.3,152.3h0.9M457.2,157.1h0.9M457.9,159.0h0.9M453.0,156.9h0.9M448.7,146.2h0.9M451.9,159.9h0.9M450.2,153.1h0.9M455.3,155.3h0.9M448.2,155.0h0.9M458.1,157.5h0.9M449.7,160.1h0.9M458.9,150.4h0.9M459.4,151.6h0.9M453.2,145.4h0.9M450.0,155.0h0.9M456.1,160.2h0.9M447.0,146.4h0.9M458.2,152.4h0.9M457.0,157.1h0.9M459.2,159.7h0.9M464.5,148.5h0.9M454.6,161.7h0.9M452.2,158.0h0.9M454.6,153.0h0.9M453.3,157.8h0.9M445.8,151.9h0.9M461.3,154.6h0.9M447.6,156.1h0.9M457.3,159.1h0.9M461.7,153.5h0.9M451.6,154.0h0.9M453.4,159.8h0.9M457.7,153.6h0.9M461.3,153.2h0.9M456.7,148.5h0.9M452.0,159.7h0.9M447.8,149.1h0.9M453.9,160.5h0.9M465.2,153.2h0.9M451.7,154.1h0.9M448.5,154.6h0.9M452.9,149.2h0.9M450.9,153.6h0.9M449.0,150.5h0.9M461.3,161.3h0.9M453.0,153.0h0.9M458.5,153.7h0.9M449.5,159.5h0.9M447.7,151.9h0.9M450.3,151.3h0.9M453.3,156.6h0.9M465.1,156.9h0.9M455.2,150.0h0.9M454.6,151.1h0.9M454.3,158.0h0.9M456.4,153.7h0.9M449.7,154.4h0.9M455.8,151.2h0.9M451.5,157.7h0.9M446.8,160.1h0.9M459.2,156.4h0.9M457.8,155.5h0.9M457.0,148.8h0.9M456.8,156.6h0.9M459.7,149.0h0.9M451.7,153.4h0.9M451.3,155.9h0.9M446.1,153.7h0.9M456.6,157.1h0.9M455.3,153.6h0.9M459.8,147.3h0.9M461.5,153.4h0.9M446.2,153.0h0.9M452.7,151.7h0.9M460.1,151.3h0.9M445.9,151.1h0.9M450.7,150.9h0.9M447.3,153.9h0.9M458.0,158.6h0.9M463.0,155.5h0.9M450.4,151.4h0.9M457.9,153.3h0.9M457.6,149.6h0.9M461.3,155.6h0.9M455.3,155.9h0.9M448.7,161.0h0.9M453.7,152.7h0.9M461.0,150.7h0.9M465.0,152.0h0.9M454.6,151.2h0.9M460.7,146.7h0.9M459.8,151.5h0.9M455.3,150.4h0.9M456.6,155.2h0.9M459.1,155.6h0.9M459.4,158.1h0.9M452.3,150.3h0.9M446.1,156.9h0.9M452.4,158.3h0.9M455.3,150.9h0.9M461.3,161.5h0.9M453.7,151.1h0.9M449.1,157.7h0.9M450.9,153.0h0.9M459.8,154.5h0.9M455.8,152.5h0.9M450.5,155.1h0.9M456.1,156.6h0.9M451.5,155.7h0.9M458.3,154.8h0.9M459.0,158.1h0.9M456.4,154.8h0.9M448.2,155.7h0.9M454.3,153.4h0.9M449.2,156.6h0.9M455.6,156.1h0.9M450.9,154.8h0.9M450.4,152.2h0.9M456.6,155.3h0.9M454.2,151.6h0.9M456.8,150.6h0.9M460.4,153.3h0.9M455.0,157.3h0.9M458.9,149.8h0.9M453.3,155.8h0.9M447.4,145.8h0.9M454.5,154.3h0.9M458.0,154.8h0.9M455.9,155.4h0.9M464.6,156.2h0.9M458.8,153.1h0.9M462.9,153.8h0.9M460.2,146.9h0.9M456.7,154.2h0.9M451.8,159.1h0.9M457.8,154.0h0.9M451.3,161.3h0.9M460.2,156.9h0.9M449.7,159.2h0.9M458.9,153.5h0.9M454.3,148.7h0.9M459.6,150.6h0.9M460.9,152.9h0.9M450.7,155.8h0.9M456.5,150.4h0.9M454.5,156.7h0.9M453.2,149.7h0.9M453.3,151.0h0.9M451.0,154.7h0.9M454.6,153.7h0.9M453.6,153.0h0.9M456.1,161.4h0.9M446.0,148.7h0.9M460.3,151.7h0.9M464.1,151.0h0.9M451.6,157.5h0.9M461.4,156.1h0.9M458.2,154.0h0.9M451.9,153.8h0.9M463.9,157.0h0.9M455.1,155.6h0.9M460.8,158.7h0.9M454.1,154.2h0.9M457.3,163.8h0.9M456.7,159.0h0.9M450.6,154.0h0.9M456.2,155.8h0.9M456.6,152.9h0.9M459.6,161.7h0.9M461.7,156.6h0.9M457.2,161.2h0.9M447.5,151.1h0.9M456.0,147.2h0.9M449.6,158.5h0.9M451.8,155.1h0.9M459.8,150.3h0.9M456.9,152.3h0.9M447.4,153.5h0.9M454.6,153.1h0.9M450.4,157.9h0.9M463.0,156.5h0.9M454.3,150.7h0.9M449.3,150.6h0.9M456.5,157.8h0.9M461.3,154.4h0.9M452.3,155.1h0.9M455.8,156.6h0.9M465.2,152.1h0.9M447.9,153.7h0.9M462.7,153.2h0.9M456.1,150.9h0.9M450.7,162.6h0.9M456.3,156.0h0.9M454.0,151.5h0.9M453.8,158.3h0.9M448.5,159.4h0.9M454.9,151.5h0.9M459.7,156.3h0.9M452.6,155.3h0.9M461.8,159.5h0.9M449.1,145.1h0.9M452.1,156.0h0.9M452.0,158.2h0.9M446.4,153.8h0.9M446.3,159.9h0.9M453.3,158.4h0.9M464.6,150.2h0.9M453.5,157.1h0.9M455.3,154.0h0.9M460.8,157.8h0.9M450.9,154.0h0.9M459.5,155.3h0.9M456.0,150.5h0.9M456.9,154.4h0.9M455.5,155.0h0.9M449.2,155.8h0.9M463.3,155.9h0.9M460.0,156.2h0.9M455.2,161.0h0.9M450.3,155.9h0.9M462.1,155.5h0.9M447.7,150.6h0.9M455.1,156.4h0.9M455.6,148.2h0.9M449.6,153.6h0.9M455.6,155.1h0.9M461.5,152.3h0.9M446.9,147.4h0.9M458.7,150.0h0.9M447.7,156.7h0.9M457.1,156.5h0.9M448.1,153.4h0.9M450.4,157.7h0.9M457.5,150.8h0.9M458.9,154.0h0.9M451.6,158.5h0.9M462.6,147.1h0.9M453.7,153.9h0.9M447.1,152.4h0.9M449.3,154.7h0.9M451.1,146.8h0.9M463.3,157.7h0.9M449.2,157.6h0.9M452.1,152.6h0.9M458.9,153.4h0.9M452.8,157.1h0.9M452.1,157.8h0.9M454.3,156.4h0.9M459.4,155.7h0.9M455.9,155.9h0.9M460.2,150.2h0.9M455.3,154.2h0.9M451.4,163.5h0.9M460.0,155.7h0.9M449.5,154.8h0.9M452.9,154.2h0.9M456.6,163.5h0.9M464.4,160.7h0.9M450.4,149.9h0.9M456.5,155.4h0.9M455.3,152.3h0.9" stroke="#d04cb0" stroke-width="0.9" opacity="0.75" fill="none"/>
<path d="M459.8,180.5h0.9M456.6,163.0h0.9M463.4,162.3h0.9M452.5,167.9h0.9M454.3,169.7h0.9M457.2,168.7h0.9M459.0,167.7h0.9M460.2,164.1h0.9M454.4,166.7h0.9M448.4,177.3h0.9M446.5,167.5h0.9M446.9,168.9h0.9M457.3,159.8h0.9M457.6,160.4h0.9M457.7,171.2h0.9M455.7,167.8h0.9M462.1,163.7h0.9M457.4,161.8h0.9M455.3,161.1h0.9M447.7,162.6h0.9M460.7,174.7h0.9M451.3,174.6h0.9M450.7,170.6h0.9M449.0,174.5h0.9M454.6,169.6h0.9M449.5,175.9h0.9M447.4,168.0h0.9M463.6,164.1h0.9M445.9,169.5h0.9M461.7,169.0h0.9M451.7,169.7h0.9M453.4,156.7h0.9M452.4,175.1h0.9M449.6,170.2h0.9M451.6,162.4h0.9M456.3,173.5h0.9M452.1,161.7h0.9M460.4,168.9h0.9M454.6,167.2h0.9M461.5,160.0h0.9M453.5,160.8h0.9M460.0,159.0h0.9M454.0,170.7h0.9M456.4,166.1h0.9M454.5,165.9h0.9M457.2,160.0h0.9M453.9,173.8h0.9M447.6,164.3h0.9M447.9,155.4h0.9M452.1,166.6h0.9M465.6,163.2h0.9M461.5,169.9h0.9M455.9,165.5h0.9M447.7,166.2h0.9M451.4,173.2h0.9M457.1,173.6h0.9M463.5,171.8h0.9M446.0,163.3h0.9M459.4,168.3h0.9M449.4,163.2h0.9M465.2,163.5h0.9M450.4,163.9h0.9M450.5,183.4h0.9M460.8,173.2h0.9M450.2,159.2h0.9M455.7,168.0h0.9M449.5,168.2h0.9M459.9,182.1h0.9M457.8,181.4h0.9M458.3,163.3h0.9M461.0,160.3h0.9M456.1,170.6h0.9M463.0,167.5h0.9M456.2,162.3h0.9M449.3,170.2h0.9M457.3,171.1h0.9M454.1,178.8h0.9M453.2,168.7h0.9M456.4,174.6h0.9M450.2,162.3h0.9M453.5,159.0h0.9M460.2,178.4h0.9M448.1,171.9h0.9M447.0,157.7h0.9M452.8,166.1h0.9M445.8,165.7h0.9M453.3,184.1h0.9M453.0,159.1h0.9M450.6,165.6h0.9M453.7,157.0h0.9M461.7,171.9h0.9M459.7,156.7h0.9M447.3,168.4h0.9M455.9,168.8h0.9M450.2,183.0h0.9M461.5,157.5h0.9M454.9,157.5h0.9M465.5,165.9h0.9M454.4,156.7h0.9M446.0,166.5h0.9M455.0,178.9h0.9M448.6,161.6h0.9M461.9,172.3h0.9M450.2,178.1h0.9M458.3,173.0h0.9M457.4,173.7h0.9M452.0,163.0h0.9M462.6,168.5h0.9M457.5,175.2h0.9M456.6,168.6h0.9M460.7,157.0h0.9M452.9,167.0h0.9M454.0,172.7h0.9M458.3,163.4h0.9M462.5,161.7h0.9M450.0,167.8h0.9M459.4,163.7h0.9M447.5,160.3h0.9M456.6,171.1h0.9M463.9,173.1h0.9M455.0,158.6h0.9M449.5,178.5h0.9M460.3,176.5h0.9M454.0,175.7h0.9M452.2,156.2h0.9M456.8,158.5h0.9M446.1,161.7h0.9M453.4,166.8h0.9M459.8,176.3h0.9M457.8,179.7h0.9M453.5,166.9h0.9M459.1,162.1h0.9M465.7,186.2h0.9M454.7,159.9h0.9M451.7,161.8h0.9M461.4,174.5h0.9M457.9,161.7h0.9M457.9,165.2h0.9M456.5,156.3h0.9M450.8,160.5h0.9M454.9,164.5h0.9M452.9,178.7h0.9M455.9,167.0h0.9M448.8,164.1h0.9M458.2,164.3h0.9M457.2,156.5h0.9M457.6,155.8h0.9M451.9,158.0h0.9M456.2,174.8h0.9M457.0,157.1h0.9M455.9,174.3h0.9M460.0,169.4h0.9M447.1,160.0h0.9M450.3,160.7h0.9M456.6,165.3h0.9M452.5,170.0h0.9M450.0,162.0h0.9M447.7,163.7h0.9M454.1,168.0h0.9" stroke="#e06070" stroke-width="0.9" opacity="0.55" fill="none"/>
<path d="M471.3,148.7h0.9M477.4,154.9h0.9M468.1,152.0h0.9M472.4,151.5h0.9M473.4,153.5h0.9M467.0,151.7h0.9M473.7,150.3h0.9M474.5,151.7h0.9M476.3,151.6h0.9M475.9,147.5h0.9M475.7,152.6h0.9M468.5,154.2h0.9M468.9,153.5h0.9M473.8,154.1h0.9M470.6,152.5h0.9M469.8,148.4h0.9M470.6,148.5h0.9M468.9,150.7h0.9M467.8,148.8h0.9M470.4,151.4h0.9M475.5,153.1h0.9M473.7,150.3h0.9M468.8,148.4h0.9M466.5,153.3h0.9M469.2,151.1h0.9M469.8,154.3h0.9M469.8,153.8h0.9M474.4,150.7h0.9M471.1,153.7h0.9M472.8,152.2h0.9M470.1,153.1h0.9M472.0,152.4h0.9M466.9,151.5h0.9M473.8,149.3h0.9M467.7,153.7h0.9M476.3,152.5h0.9M470.0,149.1h0.9M469.5,149.5h0.9M470.5,153.3h0.9M471.8,154.7h0.9M475.4,154.1h0.9M471.2,153.9h0.9M472.3,150.7h0.9M475.6,148.7h0.9M474.5,154.8h0.9M471.6,150.7h0.9M473.6,150.0h0.9M471.7,152.9h0.9M472.0,149.2h0.9M468.3,154.0h0.9M472.8,150.7h0.9M468.4,153.8h0.9M473.2,151.2h0.9M477.2,154.2h0.9M470.1,153.3h0.9M472.7,150.8h0.9M472.9,150.2h0.9M469.1,153.1h0.9M476.1,149.8h0.9M470.7,150.6h0.9M470.0,153.2h0.9M477.3,148.4h0.9M468.1,151.1h0.9M468.8,151.9h0.9M472.6,150.4h0.9M467.8,154.9h0.9M476.7,154.8h0.9M467.0,152.9h0.9M467.0,148.7h0.9M470.0,152.8h0.9M469.2,151.2h0.9M472.5,149.8h0.9M471.7,153.5h0.9M472.6,152.9h0.9M468.3,153.3h0.9M468.0,151.6h0.9" stroke="#70c860" stroke-width="0.9" opacity="0.8" fill="none"/>
<path d="M474.2,165.8h0.9M467.0,161.7h0.9M469.6,159.4h0.9M475.0,169.4h0.9M476.8,164.3h0.9M473.6,165.3h0.9M469.9,160.6h0.9M471.5,158.8h0.9M468.4,160.3h0.9M476.8,159.0h0.9M478.3,163.1h0.9M471.6,159.9h0.9M471.8,156.2h0.9M469.4,158.2h0.9M471.7,165.2h0.9M475.2,160.1h0.9M472.9,157.9h0.9M469.8,158.4h0.9M472.0,163.6h0.9M473.1,158.5h0.9M468.0,157.9h0.9M474.8,163.9h0.9M469.4,161.9h0.9M474.9,166.4h0.9M468.3,162.3h0.9M469.5,160.5h0.9M476.5,156.2h0.9M474.6,157.9h0.9M470.4,160.8h0.9M466.4,163.4h0.9M471.4,156.7h0.9M470.8,155.7h0.9M471.0,157.7h0.9M469.3,156.4h0.9M469.8,161.1h0.9M472.8,159.0h0.9M473.5,168.5h0.9M468.4,164.7h0.9M474.8,159.0h0.9M468.6,159.1h0.9M468.3,164.4h0.9M469.1,160.2h0.9M471.2,159.0h0.9M471.1,160.5h0.9M470.5,165.3h0.9M468.9,157.9h0.9M470.0,156.1h0.9M472.5,159.0h0.9M469.2,162.0h0.9M467.8,157.9h0.9M479.5,162.2h0.9M473.5,158.5h0.9M469.2,160.9h0.9M473.4,165.5h0.9M476.1,162.7h0.9M470.7,158.0h0.9M469.6,162.8h0.9M476.3,156.3h0.9M466.7,162.7h0.9M467.1,161.7h0.9M467.6,157.1h0.9M470.0,159.0h0.9M472.0,163.9h0.9M474.3,165.5h0.9M471.8,164.6h0.9M471.9,165.5h0.9M467.6,161.7h0.9M466.3,158.7h0.9M479.3,157.9h0.9M470.2,155.8h0.9" stroke="#7c84d8" stroke-width="0.9" opacity="0.6" fill="none"/>
</g>
<rect x="445.3" y="123.3" width="69.1" height="69.4" fill="none" stroke="#7f937f" stroke-width="0.9"/>
<line x1="443.8" y1="192.7" x2="445.3" y2="192.7" stroke="#7f937f" stroke-width="0.6"/>
<rect x="440.7" y="191.4" width="1.3" height="2.6" fill="#93ad93"/>
<line x1="445.3" y1="192.7" x2="445.3" y2="194.0" stroke="#7f937f" stroke-width="0.6"/>
<rect x="443.1" y="195.3" width="4.4" height="1.3" fill="#9ab89a"/>
<line x1="443.8" y1="175.3" x2="445.3" y2="175.3" stroke="#7f937f" stroke-width="0.6"/>
<rect x="440.7" y="174.0" width="1.3" height="2.6" fill="#93ad93"/>
<line x1="462.6" y1="192.7" x2="462.6" y2="194.0" stroke="#7f937f" stroke-width="0.6"/>
<rect x="460.4" y="195.3" width="4.4" height="1.3" fill="#9ab89a"/>
<line x1="443.8" y1="158.0" x2="445.3" y2="158.0" stroke="#7f937f" stroke-width="0.6"/>
<rect x="440.7" y="156.7" width="1.3" height="2.6" fill="#93ad93"/>
<line x1="479.9" y1="192.7" x2="479.9" y2="194.0" stroke="#7f937f" stroke-width="0.6"/>
<rect x="477.7" y="195.3" width="4.4" height="1.3" fill="#9ab89a"/>
<line x1="443.8" y1="140.6" x2="445.3" y2="140.6" stroke="#7f937f" stroke-width="0.6"/>
<rect x="440.7" y="139.3" width="1.3" height="2.6" fill="#93ad93"/>
<line x1="497.1" y1="192.7" x2="497.1" y2="194.0" stroke="#7f937f" stroke-width="0.6"/>
<rect x="494.9" y="195.3" width="4.4" height="1.3" fill="#9ab89a"/>
<line x1="443.8" y1="123.3" x2="445.3" y2="123.3" stroke="#7f937f" stroke-width="0.6"/>
<rect x="440.7" y="122.0" width="1.3" height="2.6" fill="#93ad93"/>
<line x1="514.4" y1="192.7" x2="514.4" y2="194.0" stroke="#7f937f" stroke-width="0.6"/>
<rect x="512.2" y="195.3" width="4.4" height="1.3" fill="#9ab89a"/>
<line x1="466.0" y1="123.3" x2="466.0" y2="192.7" stroke="#cf8090" stroke-width="0.8"/>
<line x1="445.3" y1="155.5" x2="514.4" y2="155.5" stroke="#cf8090" stroke-width="0.8"/>
<circle cx="500.2" cy="155.5" r="1" fill="#b03048"/>
<circle cx="466.0" cy="134.0" r="0.9" fill="#b03048"/>
<text x="449.4" y="138.9" font-size="8.3" font-weight="bold" stroke="#111" stroke-width="0.15" textLength="13.7" lengthAdjust="spacingAndGlyphs" fill="#111" font-family="Liberation Sans, sans-serif">59.9</text>
<text x="475.5" y="138.9" font-size="8.3" font-weight="bold" stroke="#111" stroke-width="0.15" textLength="10.3" lengthAdjust="spacingAndGlyphs" fill="#111" font-family="Liberation Sans, sans-serif">6.5</text>
<text x="450.7" y="188.4" font-size="8.3" font-weight="bold" stroke="#111" stroke-width="0.15" textLength="13.8" lengthAdjust="spacingAndGlyphs" fill="#111" font-family="Liberation Sans, sans-serif">28.5</text>
<text x="482.6" y="188.9" font-size="8.3" font-weight="bold" stroke="#111" stroke-width="0.15" textLength="9.6" lengthAdjust="spacingAndGlyphs" fill="#111" font-family="Liberation Sans, sans-serif">5.1</text>
<text x="481.2" y="210.7" font-size="8.8" font-weight="bold" text-anchor="middle" fill="#111" font-family="Liberation Sans, sans-serif">Sh TfR2 B</text>
<rect x="301.6" y="160.4" width="1.8" height="1.6" fill="#c05068"/>
<line x1="244.2" y1="163.5" x2="244.2" y2="187.3" stroke="#8a8a8a" stroke-width="0.9"/>
<path d="M244.2,161.8 L242.3,165.9 L246.1,165.9 Z" fill="#1a1a1a"/>
<line x1="244.2" y1="187.3" x2="263" y2="187.3" stroke="#555" stroke-width="0.9"/>
<path d="M266.4,187.3 L262.2,185.4 L262.2,189.2 Z" fill="#1a1a1a"/>
<line x1="255.6" y1="160.6" x2="255.6" y2="190.4" stroke="#888" stroke-width="0.8"/>
<line x1="240" y1="176.3" x2="276" y2="176.3" stroke="#555" stroke-width="0.8"/>
<text x="245.6" y="172.3" font-size="6.3" fill="#333" font-family="Liberation Sans, sans-serif">R2</text>
<text x="257.4" y="172.3" font-size="6.3" fill="#333" font-family="Liberation Sans, sans-serif">R3</text>
<text x="245.6" y="184.7" font-size="6.3" fill="#333" font-family="Liberation Sans, sans-serif">R1</text>
<text x="257.4" y="184.7" font-size="6.3" fill="#333" font-family="Liberation Sans, sans-serif">R4</text>
<text transform="translate(239.9,184.1) rotate(-90)" font-size="7.7" font-weight="bold" textLength="17.3" lengthAdjust="spacingAndGlyphs" fill="#1a1a1a" font-family="Liberation Sans, sans-serif">CD71</text>
<text x="254.4" y="197.9" font-size="7.8" font-weight="bold" text-anchor="middle" fill="#222" font-family="Liberation Sans, sans-serif">GPA</text>
<line x1="72.6" y1="235.0" x2="343" y2="235.0" stroke="#777" stroke-width="0.6"/>
<line x1="343" y1="235.0" x2="343" y2="320.4" stroke="#777" stroke-width="0.6"/>
<line x1="72.6" y1="235.0" x2="72.6" y2="320.4" stroke="#444" stroke-width="0.9"/>
<line x1="72.6" y1="320.4" x2="343" y2="320.4" stroke="#444" stroke-width="0.9"/>
<line x1="69.39999999999999" y1="320.40" x2="72.6" y2="320.40" stroke="#444" stroke-width="0.8"/>
<text x="67.0" y="323.40" font-size="8.4" text-anchor="end" fill="#222" font-family="Liberation Sans, sans-serif">0</text>
<line x1="69.39999999999999" y1="303.32" x2="72.6" y2="303.32" stroke="#444" stroke-width="0.8"/>
<text x="67.0" y="306.32" font-size="8.4" text-anchor="end" fill="#222" font-family="Liberation Sans, sans-serif">20</text>
<line x1="69.39999999999999" y1="286.24" x2="72.6" y2="286.24" stroke="#444" stroke-width="0.8"/>
<text x="67.0" y="289.24" font-size="8.4" text-anchor="end" fill="#222" font-family="Liberation Sans, sans-serif">40</text>
<line x1="69.39999999999999" y1="269.16" x2="72.6" y2="269.16" stroke="#444" stroke-width="0.8"/>
<text x="67.0" y="272.16" font-size="8.4" text-anchor="end" fill="#222" font-family="Liberation Sans, sans-serif">60</text>
<line x1="69.39999999999999" y1="252.08" x2="72.6" y2="252.08" stroke="#444" stroke-width="0.8"/>
<text x="67.0" y="255.08" font-size="8.4" text-anchor="end" fill="#222" font-family="Liberation Sans, sans-serif">80</text>
<line x1="69.39999999999999" y1="235.00" x2="72.6" y2="235.00" stroke="#444" stroke-width="0.8"/>
<text x="67.0" y="238.00" font-size="8.4" text-anchor="end" fill="#222" font-family="Liberation Sans, sans-serif">100</text>
<text x="42.6" y="284.3" font-size="11" fill="#222" font-family="Liberation Sans, sans-serif">%</text>
<rect x="77.1" y="308.60" width="7.7" height="11.80" fill="#1c1f1e" stroke="#333" stroke-width="0.75"/>
<rect x="77.1" y="262.00" width="7.7" height="46.60" fill="url(#dots)" stroke="#333" stroke-width="0.75"/>
<rect x="77.1" y="239.90" width="7.7" height="22.10" fill="#3d4644" stroke="#333" stroke-width="0.75"/>
<rect x="77.1" y="236.70" width="7.7" height="3.20" fill="#a9acab" stroke="#333" stroke-width="0.75"/>
<rect x="77.1" y="235.00" width="7.7" height="1.70" fill="url(#hatchC)" stroke="#333" stroke-width="0.75"/>
<rect x="95.2" y="297.90" width="7.7" height="22.50" fill="#1c1f1e" stroke="#333" stroke-width="0.75"/>
<rect x="95.2" y="237.80" width="7.7" height="60.10" fill="url(#dots)" stroke="#333" stroke-width="0.75"/>
<rect x="95.2" y="235.00" width="7.7" height="2.80" fill="#3d4644" stroke="#333" stroke-width="0.75"/>
<rect x="113.1" y="283.10" width="7.7" height="37.30" fill="#1c1f1e" stroke="#333" stroke-width="0.75"/>
<rect x="113.1" y="241.50" width="7.7" height="41.60" fill="url(#dots)" stroke="#333" stroke-width="0.75"/>
<rect x="113.1" y="238.30" width="7.7" height="3.20" fill="#3d4644" stroke="#333" stroke-width="0.75"/>
<rect x="113.1" y="236.00" width="7.7" height="2.30" fill="#a9acab" stroke="#333" stroke-width="0.75"/>
<rect x="113.1" y="235.00" width="7.7" height="1.00" fill="url(#hatchC)" stroke="#333" stroke-width="0.75"/>
<rect x="149.2" y="313.30" width="7.7" height="7.10" fill="#1c1f1e" stroke="#333" stroke-width="0.75"/>
<rect x="149.2" y="280.90" width="7.7" height="32.40" fill="url(#dots)" stroke="#333" stroke-width="0.75"/>
<rect x="149.2" y="253.40" width="7.7" height="27.50" fill="#3d4644" stroke="#333" stroke-width="0.75"/>
<rect x="149.2" y="240.40" width="7.7" height="13.00" fill="#a9acab" stroke="#333" stroke-width="0.75"/>
<rect x="149.2" y="235.00" width="7.7" height="5.40" fill="url(#hatchC)" stroke="#333" stroke-width="0.75"/>
<rect x="167.1" y="305.30" width="7.7" height="15.10" fill="#1c1f1e" stroke="#333" stroke-width="0.75"/>
<rect x="167.1" y="257.80" width="7.7" height="47.50" fill="url(#dots)" stroke="#333" stroke-width="0.75"/>
<rect x="167.1" y="241.50" width="7.7" height="16.30" fill="#3d4644" stroke="#333" stroke-width="0.75"/>
<rect x="167.1" y="236.20" width="7.7" height="5.30" fill="#a9acab" stroke="#333" stroke-width="0.75"/>
<rect x="167.1" y="235.00" width="7.7" height="1.20" fill="url(#hatchC)" stroke="#333" stroke-width="0.75"/>
<rect x="185.1" y="294.80" width="7.7" height="25.60" fill="#1c1f1e" stroke="#333" stroke-width="0.75"/>
<rect x="185.1" y="253.00" width="7.7" height="41.80" fill="url(#dots)" stroke="#333" stroke-width="0.75"/>
<rect x="185.1" y="238.50" width="7.7" height="14.50" fill="#3d4644" stroke="#333" stroke-width="0.75"/>
<rect x="185.1" y="235.00" width="7.7" height="3.50" fill="#a9acab" stroke="#333" stroke-width="0.75"/>
<rect x="221.6" y="312.70" width="7.7" height="7.70" fill="url(#dots)" stroke="#333" stroke-width="0.75"/>
<rect x="221.6" y="294.90" width="7.7" height="17.80" fill="#3d4644" stroke="#333" stroke-width="0.75"/>
<rect x="221.6" y="256.50" width="7.7" height="38.40" fill="#a9acab" stroke="#333" stroke-width="0.75"/>
<rect x="221.6" y="235.00" width="7.7" height="21.50" fill="url(#hatchC)" stroke="#333" stroke-width="0.75"/>
<rect x="239.3" y="318.00" width="7.7" height="2.40" fill="#1c1f1e" stroke="#333" stroke-width="0.75"/>
<rect x="239.3" y="309.70" width="7.7" height="8.30" fill="url(#dots)" stroke="#333" stroke-width="0.75"/>
<rect x="239.3" y="283.20" width="7.7" height="26.50" fill="#3d4644" stroke="#333" stroke-width="0.75"/>
<rect x="239.3" y="244.30" width="7.7" height="38.90" fill="#a9acab" stroke="#333" stroke-width="0.75"/>
<rect x="239.3" y="235.00" width="7.7" height="9.30" fill="url(#hatchC)" stroke="#333" stroke-width="0.75"/>
<rect x="257.4" y="306.50" width="7.7" height="13.90" fill="#1c1f1e" stroke="#333" stroke-width="0.75"/>
<rect x="257.4" y="262.40" width="7.7" height="44.10" fill="url(#dots)" stroke="#333" stroke-width="0.75"/>
<rect x="257.4" y="248.50" width="7.7" height="13.90" fill="#3d4644" stroke="#333" stroke-width="0.75"/>
<rect x="257.4" y="236.60" width="7.7" height="11.90" fill="#a9acab" stroke="#333" stroke-width="0.75"/>
<rect x="257.4" y="235.00" width="7.7" height="1.60" fill="url(#hatchC)" stroke="#333" stroke-width="0.75"/>
<rect x="293.3" y="314.00" width="7.7" height="6.40" fill="#3d4644" stroke="#333" stroke-width="0.75"/>
<rect x="293.3" y="267.10" width="7.7" height="46.90" fill="#a9acab" stroke="#333" stroke-width="0.75"/>
<rect x="293.3" y="235.00" width="7.7" height="32.10" fill="url(#hatchC)" stroke="#333" stroke-width="0.75"/>
<rect x="311.2" y="318.00" width="7.7" height="2.40" fill="url(#dots)" stroke="#333" stroke-width="0.75"/>
<rect x="311.2" y="315.00" width="7.7" height="3.00" fill="#3d4644" stroke="#333" stroke-width="0.75"/>
<rect x="311.2" y="244.80" width="7.7" height="70.20" fill="#a9acab" stroke="#333" stroke-width="0.75"/>
<rect x="311.2" y="235.00" width="7.7" height="9.80" fill="url(#hatchC)" stroke="#333" stroke-width="0.75"/>
<rect x="329.3" y="314.40" width="7.7" height="6.00" fill="url(#dots)" stroke="#333" stroke-width="0.75"/>
<rect x="329.3" y="284.90" width="7.7" height="29.50" fill="#3d4644" stroke="#333" stroke-width="0.75"/>
<rect x="329.3" y="239.30" width="7.7" height="45.60" fill="#a9acab" stroke="#333" stroke-width="0.75"/>
<rect x="329.3" y="235.00" width="7.7" height="4.30" fill="url(#hatchC)" stroke="#333" stroke-width="0.75"/>
<line x1="73" y1="320.4" x2="73" y2="322.59999999999997" stroke="#888" stroke-width="0.5"/>
<line x1="90.5" y1="320.4" x2="90.5" y2="322.59999999999997" stroke="#888" stroke-width="0.5"/>
<line x1="108.5" y1="320.4" x2="108.5" y2="322.59999999999997" stroke="#888" stroke-width="0.5"/>
<line x1="126" y1="320.4" x2="126" y2="322.59999999999997" stroke="#888" stroke-width="0.5"/>
<line x1="144" y1="320.4" x2="144" y2="322.59999999999997" stroke="#888" stroke-width="0.5"/>
<line x1="162" y1="320.4" x2="162" y2="322.59999999999997" stroke="#888" stroke-width="0.5"/>
<line x1="180" y1="320.4" x2="180" y2="322.59999999999997" stroke="#888" stroke-width="0.5"/>
<line x1="198" y1="320.4" x2="198" y2="322.59999999999997" stroke="#888" stroke-width="0.5"/>
<line x1="216" y1="320.4" x2="216" y2="322.59999999999997" stroke="#888" stroke-width="0.5"/>
<line x1="234" y1="320.4" x2="234" y2="322.59999999999997" stroke="#888" stroke-width="0.5"/>
<line x1="252" y1="320.4" x2="252" y2="322.59999999999997" stroke="#888" stroke-width="0.5"/>
<line x1="270" y1="320.4" x2="270" y2="322.59999999999997" stroke="#888" stroke-width="0.5"/>
<line x1="288" y1="320.4" x2="288" y2="322.59999999999997" stroke="#888" stroke-width="0.5"/>
<line x1="306" y1="320.4" x2="306" y2="322.59999999999997" stroke="#888" stroke-width="0.5"/>
<line x1="324" y1="320.4" x2="324" y2="322.59999999999997" stroke="#888" stroke-width="0.5"/>
<line x1="342" y1="320.4" x2="342" y2="322.59999999999997" stroke="#888" stroke-width="0.5"/>
<text transform="translate(86.4,359.3) rotate(-90)" font-size="7.2" fill="#222" font-family="Liberation Sans, sans-serif">Sh Control</text>
<text transform="translate(103.3,359.3) rotate(-90)" font-size="7.2" fill="#222" font-family="Liberation Sans, sans-serif">Sh TfR2 B</text>
<text transform="translate(120.3,359.3) rotate(-90)" font-size="7.2" fill="#222" font-family="Liberation Sans, sans-serif">Sh TfR2 A</text>
<text transform="translate(158.5,359.3) rotate(-90)" font-size="7.2" fill="#222" font-family="Liberation Sans, sans-serif">Sh Control</text>
<text transform="translate(175.2,359.3) rotate(-90)" font-size="7.2" fill="#222" font-family="Liberation Sans, sans-serif">Sh TfR2 B</text>
<text transform="translate(192.3,359.3) rotate(-90)" font-size="7.2" fill="#222" font-family="Liberation Sans, sans-serif">Sh TfR2 A</text>
<text transform="translate(230.9,359.3) rotate(-90)" font-size="7.2" fill="#222" font-family="Liberation Sans, sans-serif">Sh Control</text>
<text transform="translate(247.4,359.3) rotate(-90)" font-size="7.2" fill="#222" font-family="Liberation Sans, sans-serif">Sh TfR2 B</text>
<text transform="translate(264.6,359.3) rotate(-90)" font-size="7.2" fill="#222" font-family="Liberation Sans, sans-serif">Sh TfR2 A</text>
<text transform="translate(302.6,359.3) rotate(-90)" font-size="7.2" fill="#222" font-family="Liberation Sans, sans-serif">Sh Control</text>
<text transform="translate(319.3,359.3) rotate(-90)" font-size="7.2" fill="#222" font-family="Liberation Sans, sans-serif">Sh TfR2 B</text>
<text transform="translate(336.5,359.3) rotate(-90)" font-size="7.2" fill="#222" font-family="Liberation Sans, sans-serif">Sh TfR2 A</text>
<text x="100" y="373.8" font-size="8.6" text-anchor="middle" fill="#222" font-family="Liberation Sans, sans-serif">Day 5</text>
<text x="175.8" y="373.8" font-size="8.6" text-anchor="middle" fill="#222" font-family="Liberation Sans, sans-serif">Day 7</text>
<text x="243.4" y="373.8" font-size="8.6" text-anchor="middle" fill="#222" font-family="Liberation Sans, sans-serif">Day 9</text>
<text x="315.6" y="373.8" font-size="8.6" text-anchor="middle" fill="#222" font-family="Liberation Sans, sans-serif">Day 12</text>
<rect x="359" y="237.6" width="7.8" height="7.4" fill="url(#hatchC)" stroke="#444" stroke-width="0.5"/>
<text x="375.4" y="244.2" font-size="8.9" fill="#222" font-family="Liberation Sans, sans-serif">Reticulocyte</text>
<rect x="359" y="256" width="7.8" height="7.4" fill="#a9acab" stroke="#444" stroke-width="0.5"/>
<text x="375.4" y="262.6" font-size="8.9" fill="#222" font-family="Liberation Sans, sans-serif">Orthochromatic Erythroblast</text>
<rect x="359" y="274.4" width="7.8" height="7.4" fill="#3d4644" stroke="#444" stroke-width="0.5"/>
<text x="375.4" y="281.0" font-size="8.9" fill="#222" font-family="Liberation Sans, sans-serif">Polychromatic Erythroblast</text>
<rect x="359" y="293.2" width="7.8" height="7.4" fill="url(#dots)" stroke="#444" stroke-width="0.5"/>
<text x="375.4" y="299.8" font-size="8.9" fill="#222" font-family="Liberation Sans, sans-serif">Basophilic Erythroblast II</text>
<rect x="359" y="317.6" width="7.8" height="7.8" fill="#1c1f1e" stroke="#444" stroke-width="0.5"/>
<text x="375.5" y="318.8" font-size="8.9" fill="#222" font-family="Liberation Sans, sans-serif">ProErythroblast-Basophilic</text>
<text x="377.7" y="330.1" font-size="8.9" fill="#222" font-family="Liberation Sans, sans-serif">Erythroblast I</text>
</svg>
</body></html>
